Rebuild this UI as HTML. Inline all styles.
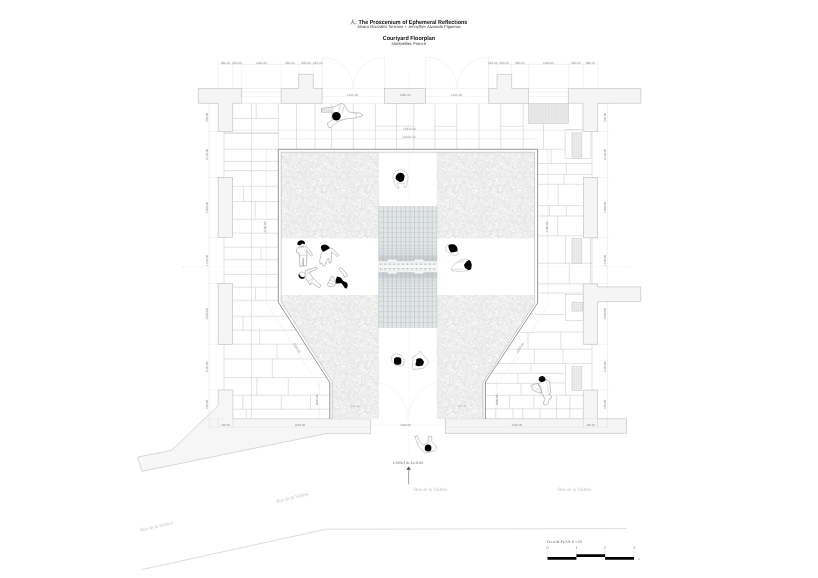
<!DOCTYPE html>
<html lang="en"><head><meta charset="utf-8"><title>Courtyard Floorplan</title>
<style>html,body{margin:0;padding:0;background:#fff}body{width:818px;height:578px;overflow:hidden}svg{display:block;text-rendering:geometricPrecision;}.sa{font-family:"Liberation Sans","Noto Sans CJK SC",sans-serif}.se{font-family:"Liberation Serif","Noto Serif CJK SC",serif}</style></head>
<body><svg width="818" height="578" viewBox="0 0 818 578">
<rect width="818" height="578" fill="#fff"/>
<defs>
<pattern id="gravel" width="44" height="44" patternUnits="userSpaceOnUse">
<rect width="44" height="44" fill="#f1f1f1"/>
<circle cx="14.2" cy="6.6" r="0.81" fill="#ececec" stroke="#d4d4d4" stroke-width="0.25"/>
<circle cx="3.2" cy="23.6" r="0.65" fill="#fdfdfd" stroke="#d4d4d4" stroke-width="0.25"/>
<circle cx="2.6" cy="22.3" r="0.47" fill="#f4f4f4" stroke="#d4d4d4" stroke-width="0.25"/>
<circle cx="19.1" cy="3.1" r="0.50" fill="#f0f0f0" stroke="#d4d4d4" stroke-width="0.25"/>
<circle cx="18.7" cy="36.4" r="0.52" fill="#ececec" stroke="#d4d4d4" stroke-width="0.25"/>
<circle cx="9.8" cy="27.6" r="0.97" fill="#ececec" stroke="#d4d4d4" stroke-width="0.25"/>
<circle cx="25.4" cy="17.5" r="0.99" fill="#f9f9f9" stroke="#d4d4d4" stroke-width="0.25"/>
<circle cx="2.0" cy="37.8" r="0.61" fill="#fdfdfd" stroke="#d4d4d4" stroke-width="0.25"/>
<circle cx="6.3" cy="5.2" r="0.62" fill="#f9f9f9" stroke="#d4d4d4" stroke-width="0.25"/>
<circle cx="35.9" cy="8.0" r="0.77" fill="#f6f6f6" stroke="#d4d4d4" stroke-width="0.25"/>
<circle cx="28.1" cy="16.4" r="0.75" fill="#f4f4f4" stroke="#d4d4d4" stroke-width="0.25"/>
<circle cx="2.8" cy="2.6" r="0.56" fill="#f9f9f9" stroke="#d4d4d4" stroke-width="0.25"/>
<circle cx="29.9" cy="18.8" r="0.62" fill="#fdfdfd" stroke="#d4d4d4" stroke-width="0.25"/>
<circle cx="25.8" cy="19.9" r="0.61" fill="#f0f0f0" stroke="#d4d4d4" stroke-width="0.25"/>
<circle cx="35.0" cy="30.8" r="0.58" fill="#f4f4f4" stroke="#d4d4d4" stroke-width="0.25"/>
<circle cx="25.3" cy="23.1" r="0.93" fill="#f6f6f6" stroke="#d4d4d4" stroke-width="0.25"/>
<circle cx="32.1" cy="12.7" r="0.99" fill="#ececec" stroke="#d4d4d4" stroke-width="0.25"/>
<circle cx="5.2" cy="18.4" r="0.87" fill="#f9f9f9" stroke="#d4d4d4" stroke-width="0.25"/>
<circle cx="6.7" cy="21.5" r="0.47" fill="#f4f4f4" stroke="#d4d4d4" stroke-width="0.25"/>
<circle cx="29.4" cy="33.6" r="0.77" fill="#f4f4f4" stroke="#d4d4d4" stroke-width="0.25"/>
<circle cx="38.5" cy="13.8" r="0.83" fill="#f0f0f0" stroke="#d4d4d4" stroke-width="0.25"/>
<circle cx="26.2" cy="25.5" r="0.70" fill="#f0f0f0" stroke="#d4d4d4" stroke-width="0.25"/>
<circle cx="37.0" cy="41.6" r="0.71" fill="#f0f0f0" stroke="#d4d4d4" stroke-width="0.25"/>
<circle cx="29.2" cy="2.7" r="0.84" fill="#ececec" stroke="#d4d4d4" stroke-width="0.25"/>
<circle cx="28.5" cy="43.7" r="0.90" fill="#f9f9f9" stroke="#d4d4d4" stroke-width="0.25"/>
<circle cx="28.5" cy="-0.3" r="0.90" fill="#f9f9f9" stroke="#d4d4d4" stroke-width="0.25"/>
<circle cx="12.5" cy="17.0" r="0.82" fill="#f9f9f9" stroke="#d4d4d4" stroke-width="0.25"/>
<circle cx="1.0" cy="20.3" r="0.54" fill="#f9f9f9" stroke="#d4d4d4" stroke-width="0.25"/>
<circle cx="45.0" cy="20.3" r="0.54" fill="#f9f9f9" stroke="#d4d4d4" stroke-width="0.25"/>
<circle cx="5.2" cy="2.6" r="0.87" fill="#ececec" stroke="#d4d4d4" stroke-width="0.25"/>
<circle cx="5.7" cy="10.9" r="0.67" fill="#f6f6f6" stroke="#d4d4d4" stroke-width="0.25"/>
<circle cx="38.3" cy="3.5" r="0.70" fill="#fdfdfd" stroke="#d4d4d4" stroke-width="0.25"/>
<circle cx="24.2" cy="38.9" r="0.90" fill="#ececec" stroke="#d4d4d4" stroke-width="0.25"/>
<circle cx="38.0" cy="12.3" r="0.68" fill="#f6f6f6" stroke="#d4d4d4" stroke-width="0.25"/>
<circle cx="15.8" cy="38.9" r="0.98" fill="#fdfdfd" stroke="#d4d4d4" stroke-width="0.25"/>
<circle cx="6.6" cy="7.8" r="0.58" fill="#ececec" stroke="#d4d4d4" stroke-width="0.25"/>
<circle cx="10.3" cy="21.3" r="0.77" fill="#f6f6f6" stroke="#d4d4d4" stroke-width="0.25"/>
<circle cx="11.6" cy="0.2" r="0.68" fill="#f9f9f9" stroke="#d4d4d4" stroke-width="0.25"/>
<circle cx="11.6" cy="44.2" r="0.68" fill="#f9f9f9" stroke="#d4d4d4" stroke-width="0.25"/>
<circle cx="16.2" cy="24.9" r="0.97" fill="#f6f6f6" stroke="#d4d4d4" stroke-width="0.25"/>
<circle cx="30.4" cy="22.7" r="0.79" fill="#f9f9f9" stroke="#d4d4d4" stroke-width="0.25"/>
<circle cx="34.3" cy="38.5" r="0.89" fill="#fdfdfd" stroke="#d4d4d4" stroke-width="0.25"/>
<circle cx="17.3" cy="17.6" r="0.51" fill="#f9f9f9" stroke="#d4d4d4" stroke-width="0.25"/>
<circle cx="27.9" cy="2.7" r="0.49" fill="#f6f6f6" stroke="#d4d4d4" stroke-width="0.25"/>
<circle cx="9.2" cy="7.1" r="0.64" fill="#f9f9f9" stroke="#d4d4d4" stroke-width="0.25"/>
<circle cx="2.3" cy="0.0" r="0.53" fill="#f0f0f0" stroke="#d4d4d4" stroke-width="0.25"/>
<circle cx="2.3" cy="44.0" r="0.53" fill="#f0f0f0" stroke="#d4d4d4" stroke-width="0.25"/>
<circle cx="4.5" cy="16.0" r="0.46" fill="#f4f4f4" stroke="#d4d4d4" stroke-width="0.25"/>
<circle cx="38.5" cy="27.0" r="0.53" fill="#f9f9f9" stroke="#d4d4d4" stroke-width="0.25"/>
<circle cx="11.1" cy="15.3" r="0.65" fill="#fdfdfd" stroke="#d4d4d4" stroke-width="0.25"/>
<circle cx="5.4" cy="37.4" r="1.00" fill="#f9f9f9" stroke="#d4d4d4" stroke-width="0.25"/>
<circle cx="20.5" cy="21.3" r="0.50" fill="#fdfdfd" stroke="#d4d4d4" stroke-width="0.25"/>
<circle cx="41.8" cy="23.2" r="0.53" fill="#fdfdfd" stroke="#d4d4d4" stroke-width="0.25"/>
<circle cx="23.9" cy="1.2" r="0.74" fill="#ececec" stroke="#d4d4d4" stroke-width="0.25"/>
<circle cx="23.9" cy="45.2" r="0.74" fill="#ececec" stroke="#d4d4d4" stroke-width="0.25"/>
<circle cx="43.1" cy="38.0" r="0.83" fill="#f4f4f4" stroke="#d4d4d4" stroke-width="0.25"/>
<circle cx="-0.9" cy="38.0" r="0.83" fill="#f4f4f4" stroke="#d4d4d4" stroke-width="0.25"/>
<circle cx="34.0" cy="23.4" r="0.88" fill="#f9f9f9" stroke="#d4d4d4" stroke-width="0.25"/>
<circle cx="14.5" cy="9.8" r="0.90" fill="#f9f9f9" stroke="#d4d4d4" stroke-width="0.25"/>
<circle cx="36.0" cy="32.6" r="0.57" fill="#f6f6f6" stroke="#d4d4d4" stroke-width="0.25"/>
<circle cx="22.8" cy="15.6" r="0.47" fill="#f6f6f6" stroke="#d4d4d4" stroke-width="0.25"/>
<circle cx="1.2" cy="12.3" r="0.59" fill="#fdfdfd" stroke="#d4d4d4" stroke-width="0.25"/>
<circle cx="30.5" cy="42.1" r="0.70" fill="#f9f9f9" stroke="#d4d4d4" stroke-width="0.25"/>
<circle cx="41.2" cy="43.5" r="0.98" fill="#f0f0f0" stroke="#d4d4d4" stroke-width="0.25"/>
<circle cx="41.2" cy="-0.5" r="0.98" fill="#f0f0f0" stroke="#d4d4d4" stroke-width="0.25"/>
<circle cx="16.0" cy="9.7" r="0.57" fill="#f6f6f6" stroke="#d4d4d4" stroke-width="0.25"/>
<circle cx="8.7" cy="9.0" r="0.79" fill="#f6f6f6" stroke="#d4d4d4" stroke-width="0.25"/>
<circle cx="39.6" cy="37.0" r="0.71" fill="#f4f4f4" stroke="#d4d4d4" stroke-width="0.25"/>
<circle cx="28.7" cy="35.2" r="0.50" fill="#f0f0f0" stroke="#d4d4d4" stroke-width="0.25"/>
<circle cx="29.1" cy="40.0" r="0.88" fill="#f9f9f9" stroke="#d4d4d4" stroke-width="0.25"/>
<circle cx="33.0" cy="21.0" r="0.55" fill="#f6f6f6" stroke="#d4d4d4" stroke-width="0.25"/>
<circle cx="34.7" cy="14.6" r="0.89" fill="#f4f4f4" stroke="#d4d4d4" stroke-width="0.25"/>
<circle cx="42.8" cy="17.4" r="0.67" fill="#fdfdfd" stroke="#d4d4d4" stroke-width="0.25"/>
<circle cx="41.7" cy="31.9" r="0.54" fill="#f0f0f0" stroke="#d4d4d4" stroke-width="0.25"/>
<circle cx="5.6" cy="6.7" r="0.95" fill="#f6f6f6" stroke="#d4d4d4" stroke-width="0.25"/>
<circle cx="35.5" cy="6.4" r="0.90" fill="#fdfdfd" stroke="#d4d4d4" stroke-width="0.25"/>
<circle cx="43.1" cy="28.9" r="0.64" fill="#fdfdfd" stroke="#d4d4d4" stroke-width="0.25"/>
<circle cx="-0.9" cy="28.9" r="0.64" fill="#fdfdfd" stroke="#d4d4d4" stroke-width="0.25"/>
<circle cx="24.1" cy="5.8" r="0.46" fill="#f4f4f4" stroke="#d4d4d4" stroke-width="0.25"/>
<circle cx="41.1" cy="19.1" r="0.93" fill="#ececec" stroke="#d4d4d4" stroke-width="0.25"/>
<circle cx="36.4" cy="9.3" r="0.59" fill="#f9f9f9" stroke="#d4d4d4" stroke-width="0.25"/>
<circle cx="12.9" cy="10.6" r="0.77" fill="#ececec" stroke="#d4d4d4" stroke-width="0.25"/>
<circle cx="11.4" cy="18.4" r="0.52" fill="#f6f6f6" stroke="#d4d4d4" stroke-width="0.25"/>
<circle cx="40.0" cy="15.6" r="0.70" fill="#fdfdfd" stroke="#d4d4d4" stroke-width="0.25"/>
<circle cx="25.7" cy="39.8" r="0.68" fill="#f0f0f0" stroke="#d4d4d4" stroke-width="0.25"/>
<circle cx="40.4" cy="22.1" r="0.74" fill="#f6f6f6" stroke="#d4d4d4" stroke-width="0.25"/>
<circle cx="8.1" cy="0.2" r="0.89" fill="#ececec" stroke="#d4d4d4" stroke-width="0.25"/>
<circle cx="8.1" cy="44.2" r="0.89" fill="#ececec" stroke="#d4d4d4" stroke-width="0.25"/>
<circle cx="24.5" cy="14.3" r="0.74" fill="#f6f6f6" stroke="#d4d4d4" stroke-width="0.25"/>
<circle cx="24.4" cy="34.5" r="0.51" fill="#f4f4f4" stroke="#d4d4d4" stroke-width="0.25"/>
<circle cx="24.7" cy="10.9" r="0.60" fill="#ececec" stroke="#d4d4d4" stroke-width="0.25"/>
<circle cx="33.4" cy="40.1" r="0.69" fill="#f0f0f0" stroke="#d4d4d4" stroke-width="0.25"/>
<circle cx="27.0" cy="22.2" r="0.73" fill="#f4f4f4" stroke="#d4d4d4" stroke-width="0.25"/>
<circle cx="21.0" cy="41.4" r="0.83" fill="#f6f6f6" stroke="#d4d4d4" stroke-width="0.25"/>
<circle cx="38.6" cy="41.5" r="0.59" fill="#ececec" stroke="#d4d4d4" stroke-width="0.25"/>
<circle cx="24.6" cy="41.5" r="0.91" fill="#fdfdfd" stroke="#d4d4d4" stroke-width="0.25"/>
<circle cx="3.2" cy="10.6" r="0.49" fill="#f0f0f0" stroke="#d4d4d4" stroke-width="0.25"/>
<circle cx="6.8" cy="31.5" r="0.81" fill="#f6f6f6" stroke="#d4d4d4" stroke-width="0.25"/>
<circle cx="9.7" cy="41.9" r="0.67" fill="#fdfdfd" stroke="#d4d4d4" stroke-width="0.25"/>
<circle cx="21.4" cy="43.6" r="0.91" fill="#f6f6f6" stroke="#d4d4d4" stroke-width="0.25"/>
<circle cx="21.4" cy="-0.4" r="0.91" fill="#f6f6f6" stroke="#d4d4d4" stroke-width="0.25"/>
<circle cx="7.1" cy="19.0" r="0.73" fill="#f0f0f0" stroke="#d4d4d4" stroke-width="0.25"/>
<circle cx="31.8" cy="0.9" r="0.75" fill="#f0f0f0" stroke="#d4d4d4" stroke-width="0.25"/>
<circle cx="31.8" cy="44.9" r="0.75" fill="#f0f0f0" stroke="#d4d4d4" stroke-width="0.25"/>
<circle cx="19.4" cy="0.8" r="0.63" fill="#fdfdfd" stroke="#d4d4d4" stroke-width="0.25"/>
<circle cx="19.4" cy="44.8" r="0.63" fill="#fdfdfd" stroke="#d4d4d4" stroke-width="0.25"/>
<circle cx="43.3" cy="34.7" r="0.98" fill="#f9f9f9" stroke="#d4d4d4" stroke-width="0.25"/>
<circle cx="-0.7" cy="34.7" r="0.98" fill="#f9f9f9" stroke="#d4d4d4" stroke-width="0.25"/>
<circle cx="4.6" cy="11.7" r="0.47" fill="#f4f4f4" stroke="#d4d4d4" stroke-width="0.25"/>
<circle cx="34.3" cy="11.9" r="0.52" fill="#fdfdfd" stroke="#d4d4d4" stroke-width="0.25"/>
<circle cx="18.6" cy="40.1" r="0.90" fill="#f4f4f4" stroke="#d4d4d4" stroke-width="0.25"/>
<circle cx="11.4" cy="6.6" r="0.96" fill="#f4f4f4" stroke="#d4d4d4" stroke-width="0.25"/>
<circle cx="25.1" cy="30.8" r="0.50" fill="#f6f6f6" stroke="#d4d4d4" stroke-width="0.25"/>
<circle cx="2.5" cy="30.3" r="0.68" fill="#f6f6f6" stroke="#d4d4d4" stroke-width="0.25"/>
<circle cx="3.2" cy="41.3" r="0.80" fill="#f0f0f0" stroke="#d4d4d4" stroke-width="0.25"/>
<circle cx="35.3" cy="3.7" r="0.92" fill="#f6f6f6" stroke="#d4d4d4" stroke-width="0.25"/>
<circle cx="10.5" cy="4.8" r="0.54" fill="#f0f0f0" stroke="#d4d4d4" stroke-width="0.25"/>
<circle cx="2.2" cy="8.9" r="0.62" fill="#f9f9f9" stroke="#d4d4d4" stroke-width="0.25"/>
<circle cx="13.4" cy="33.4" r="0.61" fill="#fdfdfd" stroke="#d4d4d4" stroke-width="0.25"/>
<circle cx="22.0" cy="7.8" r="0.64" fill="#f4f4f4" stroke="#d4d4d4" stroke-width="0.25"/>
<circle cx="0.8" cy="11.0" r="0.46" fill="#f4f4f4" stroke="#d4d4d4" stroke-width="0.25"/>
<circle cx="44.8" cy="11.0" r="0.46" fill="#f4f4f4" stroke="#d4d4d4" stroke-width="0.25"/>
<circle cx="32.3" cy="24.2" r="0.55" fill="#fdfdfd" stroke="#d4d4d4" stroke-width="0.25"/>
<circle cx="36.0" cy="19.0" r="0.72" fill="#f6f6f6" stroke="#d4d4d4" stroke-width="0.25"/>
<circle cx="36.7" cy="17.3" r="0.73" fill="#fdfdfd" stroke="#d4d4d4" stroke-width="0.25"/>
<circle cx="36.6" cy="31.1" r="0.80" fill="#f0f0f0" stroke="#d4d4d4" stroke-width="0.25"/>
<circle cx="17.8" cy="15.3" r="0.48" fill="#fdfdfd" stroke="#d4d4d4" stroke-width="0.25"/>
<circle cx="37.0" cy="38.3" r="0.82" fill="#fdfdfd" stroke="#d4d4d4" stroke-width="0.25"/>
<circle cx="20.2" cy="6.9" r="0.70" fill="#f4f4f4" stroke="#d4d4d4" stroke-width="0.25"/>
<circle cx="11.6" cy="42.3" r="0.98" fill="#fdfdfd" stroke="#d4d4d4" stroke-width="0.25"/>
<circle cx="13.6" cy="15.7" r="0.45" fill="#f9f9f9" stroke="#d4d4d4" stroke-width="0.25"/>
<circle cx="16.8" cy="20.9" r="0.73" fill="#f9f9f9" stroke="#d4d4d4" stroke-width="0.25"/>
<circle cx="8.8" cy="22.2" r="0.45" fill="#f4f4f4" stroke="#d4d4d4" stroke-width="0.25"/>
<circle cx="11.6" cy="3.9" r="0.67" fill="#f6f6f6" stroke="#d4d4d4" stroke-width="0.25"/>
<circle cx="1.8" cy="1.0" r="0.62" fill="#f9f9f9" stroke="#d4d4d4" stroke-width="0.25"/>
<circle cx="1.8" cy="45.0" r="0.62" fill="#f9f9f9" stroke="#d4d4d4" stroke-width="0.25"/>
<circle cx="10.2" cy="25.8" r="0.74" fill="#f6f6f6" stroke="#d4d4d4" stroke-width="0.25"/>
<circle cx="33.0" cy="28.9" r="0.84" fill="#fdfdfd" stroke="#d4d4d4" stroke-width="0.25"/>
<circle cx="38.7" cy="17.1" r="0.63" fill="#f0f0f0" stroke="#d4d4d4" stroke-width="0.25"/>
<circle cx="43.3" cy="6.6" r="0.85" fill="#ececec" stroke="#d4d4d4" stroke-width="0.25"/>
<circle cx="-0.7" cy="6.6" r="0.85" fill="#ececec" stroke="#d4d4d4" stroke-width="0.25"/>
<circle cx="22.2" cy="36.7" r="0.89" fill="#f9f9f9" stroke="#d4d4d4" stroke-width="0.25"/>
<circle cx="36.4" cy="25.7" r="0.94" fill="#f6f6f6" stroke="#d4d4d4" stroke-width="0.25"/>
<circle cx="30.0" cy="30.5" r="0.58" fill="#f0f0f0" stroke="#d4d4d4" stroke-width="0.25"/>
<circle cx="1.4" cy="5.9" r="0.65" fill="#f0f0f0" stroke="#d4d4d4" stroke-width="0.25"/>
<circle cx="27.6" cy="27.6" r="0.82" fill="#fdfdfd" stroke="#d4d4d4" stroke-width="0.25"/>
<circle cx="32.1" cy="9.0" r="0.86" fill="#ececec" stroke="#d4d4d4" stroke-width="0.25"/>
<circle cx="42.9" cy="21.7" r="0.66" fill="#f9f9f9" stroke="#d4d4d4" stroke-width="0.25"/>
<circle cx="-1.1" cy="21.7" r="0.66" fill="#f9f9f9" stroke="#d4d4d4" stroke-width="0.25"/>
<circle cx="21.1" cy="30.1" r="0.87" fill="#f6f6f6" stroke="#d4d4d4" stroke-width="0.25"/>
<circle cx="13.4" cy="25.0" r="0.46" fill="#f4f4f4" stroke="#d4d4d4" stroke-width="0.25"/>
<circle cx="2.7" cy="11.8" r="0.82" fill="#ececec" stroke="#d4d4d4" stroke-width="0.25"/>
<circle cx="22.7" cy="20.4" r="0.71" fill="#ececec" stroke="#d4d4d4" stroke-width="0.25"/>
<circle cx="5.2" cy="39.3" r="0.56" fill="#f4f4f4" stroke="#d4d4d4" stroke-width="0.25"/>
<circle cx="43.0" cy="41.2" r="0.46" fill="#f0f0f0" stroke="#d4d4d4" stroke-width="0.25"/>
<circle cx="-1.0" cy="41.2" r="0.46" fill="#f0f0f0" stroke="#d4d4d4" stroke-width="0.25"/>
<circle cx="20.2" cy="36.1" r="0.98" fill="#fdfdfd" stroke="#d4d4d4" stroke-width="0.25"/>
<circle cx="19.8" cy="11.8" r="0.57" fill="#ececec" stroke="#d4d4d4" stroke-width="0.25"/>
<circle cx="41.6" cy="9.3" r="0.77" fill="#fdfdfd" stroke="#d4d4d4" stroke-width="0.25"/>
<circle cx="6.2" cy="23.1" r="0.97" fill="#f4f4f4" stroke="#d4d4d4" stroke-width="0.25"/>
<circle cx="39.0" cy="30.9" r="0.58" fill="#ececec" stroke="#d4d4d4" stroke-width="0.25"/>
<circle cx="39.5" cy="21.4" r="0.46" fill="#f4f4f4" stroke="#d4d4d4" stroke-width="0.25"/>
<circle cx="13.9" cy="37.0" r="0.45" fill="#f6f6f6" stroke="#d4d4d4" stroke-width="0.25"/>
<circle cx="33.0" cy="36.9" r="0.52" fill="#f6f6f6" stroke="#d4d4d4" stroke-width="0.25"/>
<circle cx="43.9" cy="25.9" r="0.65" fill="#fdfdfd" stroke="#d4d4d4" stroke-width="0.25"/>
<circle cx="-0.1" cy="25.9" r="0.65" fill="#fdfdfd" stroke="#d4d4d4" stroke-width="0.25"/>
<circle cx="18.8" cy="12.1" r="0.48" fill="#f6f6f6" stroke="#d4d4d4" stroke-width="0.25"/>
<circle cx="41.2" cy="11.0" r="0.60" fill="#f9f9f9" stroke="#d4d4d4" stroke-width="0.25"/>
<circle cx="24.2" cy="31.7" r="0.48" fill="#ececec" stroke="#d4d4d4" stroke-width="0.25"/>
<circle cx="32.2" cy="19.8" r="0.86" fill="#ececec" stroke="#d4d4d4" stroke-width="0.25"/>
<circle cx="28.4" cy="12.6" r="0.48" fill="#f0f0f0" stroke="#d4d4d4" stroke-width="0.25"/>
<circle cx="40.8" cy="5.6" r="0.71" fill="#fdfdfd" stroke="#d4d4d4" stroke-width="0.25"/>
<circle cx="15.1" cy="13.1" r="0.86" fill="#ececec" stroke="#d4d4d4" stroke-width="0.25"/>
<circle cx="43.0" cy="11.4" r="0.81" fill="#ececec" stroke="#d4d4d4" stroke-width="0.25"/>
<circle cx="-1.0" cy="11.4" r="0.81" fill="#ececec" stroke="#d4d4d4" stroke-width="0.25"/>
<circle cx="15.0" cy="4.0" r="0.58" fill="#ececec" stroke="#d4d4d4" stroke-width="0.25"/>
<circle cx="33.0" cy="18.2" r="0.68" fill="#ececec" stroke="#d4d4d4" stroke-width="0.25"/>
<circle cx="38.0" cy="9.5" r="0.60" fill="#f4f4f4" stroke="#d4d4d4" stroke-width="0.25"/>
<circle cx="23.0" cy="30.0" r="0.97" fill="#f0f0f0" stroke="#d4d4d4" stroke-width="0.25"/>
<circle cx="20.1" cy="24.3" r="0.47" fill="#f9f9f9" stroke="#d4d4d4" stroke-width="0.25"/>
<circle cx="34.4" cy="10.2" r="0.96" fill="#f9f9f9" stroke="#d4d4d4" stroke-width="0.25"/>
<circle cx="26.4" cy="0.5" r="0.62" fill="#f0f0f0" stroke="#d4d4d4" stroke-width="0.25"/>
<circle cx="26.4" cy="44.5" r="0.62" fill="#f0f0f0" stroke="#d4d4d4" stroke-width="0.25"/>
<circle cx="13.5" cy="1.0" r="0.72" fill="#f6f6f6" stroke="#d4d4d4" stroke-width="0.25"/>
<circle cx="13.5" cy="45.0" r="0.72" fill="#f6f6f6" stroke="#d4d4d4" stroke-width="0.25"/>
<circle cx="1.5" cy="14.9" r="0.68" fill="#f6f6f6" stroke="#d4d4d4" stroke-width="0.25"/>
<circle cx="30.0" cy="8.7" r="0.89" fill="#f9f9f9" stroke="#d4d4d4" stroke-width="0.25"/>
<circle cx="32.5" cy="22.2" r="0.56" fill="#f0f0f0" stroke="#d4d4d4" stroke-width="0.25"/>
<circle cx="42.7" cy="13.7" r="0.90" fill="#f0f0f0" stroke="#d4d4d4" stroke-width="0.25"/>
<circle cx="10.2" cy="9.7" r="0.87" fill="#f6f6f6" stroke="#d4d4d4" stroke-width="0.25"/>
<circle cx="29.3" cy="41.7" r="0.53" fill="#f4f4f4" stroke="#d4d4d4" stroke-width="0.25"/>
<circle cx="16.7" cy="16.5" r="0.63" fill="#f0f0f0" stroke="#d4d4d4" stroke-width="0.25"/>
<circle cx="15.5" cy="42.0" r="0.52" fill="#fdfdfd" stroke="#d4d4d4" stroke-width="0.25"/>
<circle cx="36.1" cy="36.2" r="0.69" fill="#f6f6f6" stroke="#d4d4d4" stroke-width="0.25"/>
<circle cx="2.2" cy="20.8" r="0.65" fill="#f6f6f6" stroke="#d4d4d4" stroke-width="0.25"/>
<circle cx="40.5" cy="8.5" r="0.65" fill="#f9f9f9" stroke="#d4d4d4" stroke-width="0.25"/>
<circle cx="39.5" cy="1.3" r="0.68" fill="#f0f0f0" stroke="#d4d4d4" stroke-width="0.25"/>
<circle cx="35.7" cy="33.7" r="0.47" fill="#f0f0f0" stroke="#d4d4d4" stroke-width="0.25"/>
<circle cx="11.3" cy="32.9" r="0.94" fill="#ececec" stroke="#d4d4d4" stroke-width="0.25"/>
<circle cx="27.1" cy="11.5" r="0.84" fill="#f0f0f0" stroke="#d4d4d4" stroke-width="0.25"/>
<circle cx="13.9" cy="12.1" r="0.45" fill="#fdfdfd" stroke="#d4d4d4" stroke-width="0.25"/>
<circle cx="41.5" cy="1.1" r="0.58" fill="#ececec" stroke="#d4d4d4" stroke-width="0.25"/>
<circle cx="41.5" cy="45.1" r="0.58" fill="#ececec" stroke="#d4d4d4" stroke-width="0.25"/>
<circle cx="17.0" cy="11.0" r="0.69" fill="#fdfdfd" stroke="#d4d4d4" stroke-width="0.25"/>
<circle cx="34.0" cy="26.7" r="0.63" fill="#fdfdfd" stroke="#d4d4d4" stroke-width="0.25"/>
<circle cx="10.9" cy="2.8" r="0.47" fill="#fdfdfd" stroke="#d4d4d4" stroke-width="0.25"/>
<circle cx="38.9" cy="43.5" r="0.60" fill="#f0f0f0" stroke="#d4d4d4" stroke-width="0.25"/>
<circle cx="38.9" cy="-0.5" r="0.60" fill="#f0f0f0" stroke="#d4d4d4" stroke-width="0.25"/>
<circle cx="3.7" cy="4.2" r="0.72" fill="#f6f6f6" stroke="#d4d4d4" stroke-width="0.25"/>
<circle cx="18.3" cy="27.3" r="0.82" fill="#f6f6f6" stroke="#d4d4d4" stroke-width="0.25"/>
<circle cx="8.8" cy="10.9" r="0.58" fill="#f6f6f6" stroke="#d4d4d4" stroke-width="0.25"/>
<circle cx="6.7" cy="38.9" r="0.77" fill="#f0f0f0" stroke="#d4d4d4" stroke-width="0.25"/>
<circle cx="14.4" cy="17.4" r="1.00" fill="#ececec" stroke="#d4d4d4" stroke-width="0.25"/>
<circle cx="22.3" cy="10.2" r="0.89" fill="#fdfdfd" stroke="#d4d4d4" stroke-width="0.25"/>
<circle cx="38.1" cy="19.8" r="0.59" fill="#f9f9f9" stroke="#d4d4d4" stroke-width="0.25"/>
<circle cx="34.2" cy="41.6" r="0.51" fill="#ececec" stroke="#d4d4d4" stroke-width="0.25"/>
<circle cx="26.2" cy="27.3" r="0.57" fill="#f0f0f0" stroke="#d4d4d4" stroke-width="0.25"/>
<circle cx="16.2" cy="6.2" r="0.56" fill="#f0f0f0" stroke="#d4d4d4" stroke-width="0.25"/>
<circle cx="8.9" cy="35.0" r="0.75" fill="#f0f0f0" stroke="#d4d4d4" stroke-width="0.25"/>
<circle cx="24.2" cy="28.1" r="0.50" fill="#fdfdfd" stroke="#d4d4d4" stroke-width="0.25"/>
<circle cx="12.5" cy="13.5" r="0.97" fill="#f4f4f4" stroke="#d4d4d4" stroke-width="0.25"/>
<circle cx="18.3" cy="38.0" r="1.00" fill="#f6f6f6" stroke="#d4d4d4" stroke-width="0.25"/>
<circle cx="0.7" cy="24.3" r="0.80" fill="#fdfdfd" stroke="#d4d4d4" stroke-width="0.25"/>
<circle cx="44.7" cy="24.3" r="0.80" fill="#fdfdfd" stroke="#d4d4d4" stroke-width="0.25"/>
<circle cx="40.0" cy="3.9" r="0.79" fill="#f4f4f4" stroke="#d4d4d4" stroke-width="0.25"/>
<circle cx="16.3" cy="22.2" r="0.53" fill="#f0f0f0" stroke="#d4d4d4" stroke-width="0.25"/>
<circle cx="12.5" cy="22.9" r="0.96" fill="#f6f6f6" stroke="#d4d4d4" stroke-width="0.25"/>
<circle cx="4.8" cy="21.6" r="0.89" fill="#f0f0f0" stroke="#d4d4d4" stroke-width="0.25"/>
<circle cx="39.8" cy="27.3" r="0.90" fill="#f6f6f6" stroke="#d4d4d4" stroke-width="0.25"/>
<circle cx="7.1" cy="34.6" r="0.57" fill="#f4f4f4" stroke="#d4d4d4" stroke-width="0.25"/>
<circle cx="22.8" cy="16.9" r="0.52" fill="#f9f9f9" stroke="#d4d4d4" stroke-width="0.25"/>
<circle cx="18.7" cy="29.0" r="0.70" fill="#fdfdfd" stroke="#d4d4d4" stroke-width="0.25"/>
<circle cx="34.3" cy="20.2" r="0.55" fill="#fdfdfd" stroke="#d4d4d4" stroke-width="0.25"/>
<circle cx="20.8" cy="4.7" r="0.52" fill="#f6f6f6" stroke="#d4d4d4" stroke-width="0.25"/>
<circle cx="22.4" cy="1.8" r="0.80" fill="#f4f4f4" stroke="#d4d4d4" stroke-width="0.25"/>
<circle cx="3.6" cy="32.3" r="0.88" fill="#fdfdfd" stroke="#d4d4d4" stroke-width="0.25"/>
<circle cx="16.6" cy="41.8" r="0.52" fill="#f4f4f4" stroke="#d4d4d4" stroke-width="0.25"/>
<circle cx="2.9" cy="15.4" r="0.87" fill="#f0f0f0" stroke="#d4d4d4" stroke-width="0.25"/>
<circle cx="22.3" cy="14.0" r="0.47" fill="#f9f9f9" stroke="#d4d4d4" stroke-width="0.25"/>
<circle cx="34.5" cy="5.1" r="0.74" fill="#f9f9f9" stroke="#d4d4d4" stroke-width="0.25"/>
<circle cx="24.4" cy="25.5" r="0.94" fill="#f9f9f9" stroke="#d4d4d4" stroke-width="0.25"/>
<circle cx="4.6" cy="43.7" r="0.80" fill="#fdfdfd" stroke="#d4d4d4" stroke-width="0.25"/>
<circle cx="4.6" cy="-0.3" r="0.80" fill="#fdfdfd" stroke="#d4d4d4" stroke-width="0.25"/>
<circle cx="17.3" cy="35.1" r="0.60" fill="#f6f6f6" stroke="#d4d4d4" stroke-width="0.25"/>
<circle cx="32.7" cy="2.1" r="0.90" fill="#f0f0f0" stroke="#d4d4d4" stroke-width="0.25"/>
<circle cx="25.8" cy="29.2" r="0.62" fill="#fdfdfd" stroke="#d4d4d4" stroke-width="0.25"/>
<circle cx="0.1" cy="1.5" r="0.53" fill="#f6f6f6" stroke="#d4d4d4" stroke-width="0.25"/>
<circle cx="44.1" cy="1.5" r="0.53" fill="#f6f6f6" stroke="#d4d4d4" stroke-width="0.25"/>
<circle cx="27.1" cy="19.0" r="0.73" fill="#fdfdfd" stroke="#d4d4d4" stroke-width="0.25"/>
<circle cx="39.4" cy="5.8" r="0.57" fill="#f6f6f6" stroke="#d4d4d4" stroke-width="0.25"/>
<circle cx="28.7" cy="1.0" r="0.45" fill="#f6f6f6" stroke="#d4d4d4" stroke-width="0.25"/>
<circle cx="28.7" cy="45.0" r="0.45" fill="#f6f6f6" stroke="#d4d4d4" stroke-width="0.25"/>
<circle cx="5.9" cy="41.2" r="0.58" fill="#f0f0f0" stroke="#d4d4d4" stroke-width="0.25"/>
<circle cx="38.3" cy="34.4" r="0.67" fill="#f6f6f6" stroke="#d4d4d4" stroke-width="0.25"/>
<circle cx="10.9" cy="39.8" r="0.47" fill="#f6f6f6" stroke="#d4d4d4" stroke-width="0.25"/>
<circle cx="23.4" cy="17.9" r="0.58" fill="#ececec" stroke="#d4d4d4" stroke-width="0.25"/>
<circle cx="2.6" cy="34.3" r="0.46" fill="#ececec" stroke="#d4d4d4" stroke-width="0.25"/>
<circle cx="20.5" cy="32.6" r="0.70" fill="#f0f0f0" stroke="#d4d4d4" stroke-width="0.25"/>
<circle cx="30.6" cy="37.2" r="0.84" fill="#f0f0f0" stroke="#d4d4d4" stroke-width="0.25"/>
<circle cx="11.7" cy="24.4" r="0.69" fill="#f0f0f0" stroke="#d4d4d4" stroke-width="0.25"/>
<circle cx="32.8" cy="14.4" r="0.93" fill="#fdfdfd" stroke="#d4d4d4" stroke-width="0.25"/>
<circle cx="27.8" cy="30.5" r="0.82" fill="#f9f9f9" stroke="#d4d4d4" stroke-width="0.25"/>
<circle cx="4.7" cy="40.9" r="0.64" fill="#f6f6f6" stroke="#d4d4d4" stroke-width="0.25"/>
<circle cx="6.2" cy="1.3" r="0.47" fill="#ececec" stroke="#d4d4d4" stroke-width="0.25"/>
<circle cx="30.5" cy="27.9" r="0.83" fill="#fdfdfd" stroke="#d4d4d4" stroke-width="0.25"/>
<circle cx="16.0" cy="36.0" r="0.90" fill="#f0f0f0" stroke="#d4d4d4" stroke-width="0.25"/>
<circle cx="40.2" cy="41.6" r="0.51" fill="#f9f9f9" stroke="#d4d4d4" stroke-width="0.25"/>
<circle cx="9.1" cy="4.9" r="0.47" fill="#ececec" stroke="#d4d4d4" stroke-width="0.25"/>
<circle cx="36.3" cy="27.8" r="0.61" fill="#f9f9f9" stroke="#d4d4d4" stroke-width="0.25"/>
<circle cx="9.0" cy="14.0" r="0.68" fill="#f6f6f6" stroke="#d4d4d4" stroke-width="0.25"/>
<circle cx="31.5" cy="16.2" r="0.63" fill="#f4f4f4" stroke="#d4d4d4" stroke-width="0.25"/>
<circle cx="19.2" cy="34.0" r="0.64" fill="#f9f9f9" stroke="#d4d4d4" stroke-width="0.25"/>
<circle cx="33.5" cy="43.0" r="0.45" fill="#f0f0f0" stroke="#d4d4d4" stroke-width="0.25"/>
<circle cx="33.5" cy="-1.0" r="0.45" fill="#f0f0f0" stroke="#d4d4d4" stroke-width="0.25"/>
<circle cx="36.6" cy="11.5" r="0.97" fill="#fdfdfd" stroke="#d4d4d4" stroke-width="0.25"/>
<circle cx="3.8" cy="39.1" r="0.46" fill="#f6f6f6" stroke="#d4d4d4" stroke-width="0.25"/>
<circle cx="33.2" cy="33.1" r="0.81" fill="#f0f0f0" stroke="#d4d4d4" stroke-width="0.25"/>
<circle cx="15.3" cy="14.4" r="0.54" fill="#ececec" stroke="#d4d4d4" stroke-width="0.25"/>
<circle cx="37.1" cy="29.1" r="0.86" fill="#f6f6f6" stroke="#d4d4d4" stroke-width="0.25"/>
<circle cx="25.5" cy="5.5" r="0.70" fill="#f6f6f6" stroke="#d4d4d4" stroke-width="0.25"/>
<circle cx="38.9" cy="10.5" r="0.56" fill="#f4f4f4" stroke="#d4d4d4" stroke-width="0.25"/>
<circle cx="13.3" cy="30.9" r="0.91" fill="#f4f4f4" stroke="#d4d4d4" stroke-width="0.25"/>
<circle cx="14.4" cy="23.0" r="0.54" fill="#f0f0f0" stroke="#d4d4d4" stroke-width="0.25"/>
<circle cx="32.1" cy="4.5" r="0.98" fill="#f0f0f0" stroke="#d4d4d4" stroke-width="0.25"/>
<circle cx="9.1" cy="17.1" r="0.47" fill="#f0f0f0" stroke="#d4d4d4" stroke-width="0.25"/>
<circle cx="22.0" cy="27.8" r="0.70" fill="#f0f0f0" stroke="#d4d4d4" stroke-width="0.25"/>
<circle cx="6.2" cy="26.6" r="0.67" fill="#f6f6f6" stroke="#d4d4d4" stroke-width="0.25"/>
<circle cx="25.3" cy="33.0" r="0.68" fill="#f6f6f6" stroke="#d4d4d4" stroke-width="0.25"/>
<circle cx="13.8" cy="27.6" r="0.50" fill="#fdfdfd" stroke="#d4d4d4" stroke-width="0.25"/>
<circle cx="20.0" cy="27.3" r="0.68" fill="#ececec" stroke="#d4d4d4" stroke-width="0.25"/>
<circle cx="23.9" cy="7.1" r="0.88" fill="#f6f6f6" stroke="#d4d4d4" stroke-width="0.25"/>
<circle cx="9.2" cy="30.1" r="0.67" fill="#ececec" stroke="#d4d4d4" stroke-width="0.25"/>
<circle cx="15.6" cy="2.5" r="0.60" fill="#f9f9f9" stroke="#d4d4d4" stroke-width="0.25"/>
<circle cx="17.6" cy="0.6" r="0.68" fill="#f4f4f4" stroke="#d4d4d4" stroke-width="0.25"/>
<circle cx="17.6" cy="44.6" r="0.68" fill="#f4f4f4" stroke="#d4d4d4" stroke-width="0.25"/>
<circle cx="18.5" cy="30.7" r="0.64" fill="#fdfdfd" stroke="#d4d4d4" stroke-width="0.25"/>
<circle cx="35.3" cy="17.2" r="0.57" fill="#fdfdfd" stroke="#d4d4d4" stroke-width="0.25"/>
<circle cx="5.7" cy="34.2" r="0.90" fill="#fdfdfd" stroke="#d4d4d4" stroke-width="0.25"/>
<circle cx="27.9" cy="20.6" r="0.76" fill="#f9f9f9" stroke="#d4d4d4" stroke-width="0.25"/>
<circle cx="20.6" cy="13.0" r="0.75" fill="#fdfdfd" stroke="#d4d4d4" stroke-width="0.25"/>
<circle cx="0.1" cy="31.8" r="0.60" fill="#f6f6f6" stroke="#d4d4d4" stroke-width="0.25"/>
<circle cx="44.1" cy="31.8" r="0.60" fill="#f6f6f6" stroke="#d4d4d4" stroke-width="0.25"/>
<circle cx="10.8" cy="13.3" r="0.71" fill="#f4f4f4" stroke="#d4d4d4" stroke-width="0.25"/>
<circle cx="41.9" cy="28.9" r="0.59" fill="#f9f9f9" stroke="#d4d4d4" stroke-width="0.25"/>
<circle cx="39.8" cy="34.8" r="0.54" fill="#ececec" stroke="#d4d4d4" stroke-width="0.25"/>
<circle cx="23.4" cy="32.6" r="0.69" fill="#fdfdfd" stroke="#d4d4d4" stroke-width="0.25"/>
<circle cx="38.8" cy="24.4" r="0.60" fill="#ececec" stroke="#d4d4d4" stroke-width="0.25"/>
<circle cx="21.6" cy="21.9" r="0.75" fill="#fdfdfd" stroke="#d4d4d4" stroke-width="0.25"/>
<circle cx="42.3" cy="3.3" r="0.80" fill="#f6f6f6" stroke="#d4d4d4" stroke-width="0.25"/>
<circle cx="27.5" cy="14.9" r="0.92" fill="#f0f0f0" stroke="#d4d4d4" stroke-width="0.25"/>
<circle cx="18.6" cy="24.4" r="0.90" fill="#ececec" stroke="#d4d4d4" stroke-width="0.25"/>
<circle cx="12.9" cy="36.4" r="0.67" fill="#f4f4f4" stroke="#d4d4d4" stroke-width="0.25"/>
<circle cx="22.2" cy="12.0" r="0.73" fill="#f6f6f6" stroke="#d4d4d4" stroke-width="0.25"/>
<circle cx="1.8" cy="31.8" r="0.94" fill="#fdfdfd" stroke="#d4d4d4" stroke-width="0.25"/>
<circle cx="0.3" cy="8.4" r="0.96" fill="#f6f6f6" stroke="#d4d4d4" stroke-width="0.25"/>
<circle cx="44.3" cy="8.4" r="0.96" fill="#f6f6f6" stroke="#d4d4d4" stroke-width="0.25"/>
<circle cx="40.2" cy="28.9" r="0.65" fill="#f4f4f4" stroke="#d4d4d4" stroke-width="0.25"/>
<circle cx="41.1" cy="2.4" r="0.76" fill="#f6f6f6" stroke="#d4d4d4" stroke-width="0.25"/>
<circle cx="0.6" cy="17.0" r="0.78" fill="#f4f4f4" stroke="#d4d4d4" stroke-width="0.25"/>
<circle cx="44.6" cy="17.0" r="0.78" fill="#f4f4f4" stroke="#d4d4d4" stroke-width="0.25"/>
<circle cx="18.1" cy="4.5" r="0.80" fill="#f0f0f0" stroke="#d4d4d4" stroke-width="0.25"/>
<circle cx="0.2" cy="30.1" r="0.52" fill="#f4f4f4" stroke="#d4d4d4" stroke-width="0.25"/>
<circle cx="44.2" cy="30.1" r="0.52" fill="#f4f4f4" stroke="#d4d4d4" stroke-width="0.25"/>
<circle cx="37.6" cy="32.1" r="0.50" fill="#f9f9f9" stroke="#d4d4d4" stroke-width="0.25"/>
<circle cx="37.9" cy="21.4" r="0.48" fill="#ececec" stroke="#d4d4d4" stroke-width="0.25"/>
<circle cx="29.8" cy="6.4" r="0.89" fill="#f6f6f6" stroke="#d4d4d4" stroke-width="0.25"/>
<circle cx="16.0" cy="28.4" r="0.80" fill="#f6f6f6" stroke="#d4d4d4" stroke-width="0.25"/>
<circle cx="41.6" cy="34.5" r="0.76" fill="#f9f9f9" stroke="#d4d4d4" stroke-width="0.25"/>
<circle cx="12.9" cy="2.7" r="0.99" fill="#fdfdfd" stroke="#d4d4d4" stroke-width="0.25"/>
<circle cx="26.7" cy="43.0" r="0.91" fill="#f6f6f6" stroke="#d4d4d4" stroke-width="0.25"/>
<circle cx="26.7" cy="-1.0" r="0.91" fill="#f6f6f6" stroke="#d4d4d4" stroke-width="0.25"/>
<circle cx="26.5" cy="13.6" r="0.69" fill="#ececec" stroke="#d4d4d4" stroke-width="0.25"/>
<circle cx="8.8" cy="33.0" r="0.96" fill="#ececec" stroke="#d4d4d4" stroke-width="0.25"/>
<circle cx="20.5" cy="9.1" r="0.59" fill="#ececec" stroke="#d4d4d4" stroke-width="0.25"/>
<circle cx="33.0" cy="34.8" r="0.70" fill="#f9f9f9" stroke="#d4d4d4" stroke-width="0.25"/>
<circle cx="3.9" cy="35.5" r="0.87" fill="#ececec" stroke="#d4d4d4" stroke-width="0.25"/>
<circle cx="38.9" cy="23.0" r="0.71" fill="#f0f0f0" stroke="#d4d4d4" stroke-width="0.25"/>
<circle cx="25.9" cy="8.3" r="0.56" fill="#f9f9f9" stroke="#d4d4d4" stroke-width="0.25"/>
<circle cx="16.5" cy="4.7" r="0.80" fill="#f9f9f9" stroke="#d4d4d4" stroke-width="0.25"/>
<circle cx="21.4" cy="25.0" r="0.59" fill="#fdfdfd" stroke="#d4d4d4" stroke-width="0.25"/>
<circle cx="11.2" cy="1.7" r="0.56" fill="#ececec" stroke="#d4d4d4" stroke-width="0.25"/>
<circle cx="8.0" cy="3.7" r="0.48" fill="#ececec" stroke="#d4d4d4" stroke-width="0.25"/>
<circle cx="41.7" cy="40.0" r="0.49" fill="#f6f6f6" stroke="#d4d4d4" stroke-width="0.25"/>
<circle cx="17.3" cy="19.7" r="0.54" fill="#f9f9f9" stroke="#d4d4d4" stroke-width="0.25"/>
<circle cx="39.7" cy="39.8" r="0.91" fill="#fdfdfd" stroke="#d4d4d4" stroke-width="0.25"/>
<circle cx="29.8" cy="13.1" r="0.78" fill="#f0f0f0" stroke="#d4d4d4" stroke-width="0.25"/>
<circle cx="7.4" cy="10.5" r="0.53" fill="#f9f9f9" stroke="#d4d4d4" stroke-width="0.25"/>
<circle cx="36.2" cy="21.0" r="0.80" fill="#f6f6f6" stroke="#d4d4d4" stroke-width="0.25"/>
<circle cx="6.3" cy="9.8" r="0.48" fill="#f9f9f9" stroke="#d4d4d4" stroke-width="0.25"/>
<circle cx="6.9" cy="11.9" r="0.91" fill="#ececec" stroke="#d4d4d4" stroke-width="0.25"/>
<circle cx="14.0" cy="39.7" r="0.51" fill="#f9f9f9" stroke="#d4d4d4" stroke-width="0.25"/>
<circle cx="16.0" cy="43.6" r="1.00" fill="#f4f4f4" stroke="#d4d4d4" stroke-width="0.25"/>
<circle cx="16.0" cy="-0.4" r="1.00" fill="#f4f4f4" stroke="#d4d4d4" stroke-width="0.25"/>
<circle cx="12.9" cy="43.1" r="0.46" fill="#f4f4f4" stroke="#d4d4d4" stroke-width="0.25"/>
<circle cx="12.9" cy="-0.9" r="0.46" fill="#f4f4f4" stroke="#d4d4d4" stroke-width="0.25"/>
<circle cx="0.1" cy="36.6" r="0.74" fill="#f0f0f0" stroke="#d4d4d4" stroke-width="0.25"/>
<circle cx="44.1" cy="36.6" r="0.74" fill="#f0f0f0" stroke="#d4d4d4" stroke-width="0.25"/>
<circle cx="21.0" cy="38.4" r="0.60" fill="#f6f6f6" stroke="#d4d4d4" stroke-width="0.25"/>
<circle cx="8.2" cy="36.6" r="0.65" fill="#f6f6f6" stroke="#d4d4d4" stroke-width="0.25"/>
<circle cx="7.2" cy="16.3" r="0.78" fill="#fdfdfd" stroke="#d4d4d4" stroke-width="0.25"/>
<circle cx="0.2" cy="22.9" r="0.70" fill="#ececec" stroke="#d4d4d4" stroke-width="0.25"/>
<circle cx="44.2" cy="22.9" r="0.70" fill="#ececec" stroke="#d4d4d4" stroke-width="0.25"/>
<circle cx="22.7" cy="5.3" r="0.84" fill="#f6f6f6" stroke="#d4d4d4" stroke-width="0.25"/>
<circle cx="9.8" cy="8.0" r="0.51" fill="#f6f6f6" stroke="#d4d4d4" stroke-width="0.25"/>
<circle cx="11.0" cy="36.0" r="0.47" fill="#f4f4f4" stroke="#d4d4d4" stroke-width="0.25"/>
<circle cx="4.2" cy="30.8" r="0.56" fill="#f6f6f6" stroke="#d4d4d4" stroke-width="0.25"/>
<circle cx="12.3" cy="5.4" r="0.67" fill="#f4f4f4" stroke="#d4d4d4" stroke-width="0.25"/>
<circle cx="35.4" cy="40.2" r="0.90" fill="#f0f0f0" stroke="#d4d4d4" stroke-width="0.25"/>
<circle cx="37.3" cy="2.4" r="0.73" fill="#f6f6f6" stroke="#d4d4d4" stroke-width="0.25"/>
<circle cx="6.5" cy="7.9" r="0.84" fill="#fefefe" opacity="0.9"/>
<circle cx="5.9" cy="5.6" r="0.58" fill="#fefefe" opacity="0.9"/>
<circle cx="22.9" cy="35.2" r="0.78" fill="#fefefe" opacity="0.9"/>
<circle cx="34.6" cy="4.0" r="0.51" fill="#fefefe" opacity="0.9"/>
<circle cx="33.1" cy="14.7" r="0.82" fill="#fefefe" opacity="0.9"/>
<circle cx="16.0" cy="8.4" r="0.62" fill="#fefefe" opacity="0.9"/>
<circle cx="5.6" cy="38.6" r="0.76" fill="#fefefe" opacity="0.9"/>
<circle cx="15.8" cy="19.9" r="0.67" fill="#fefefe" opacity="0.9"/>
<circle cx="3.7" cy="38.0" r="0.76" fill="#fefefe" opacity="0.9"/>
<circle cx="40.8" cy="19.5" r="0.78" fill="#fefefe" opacity="0.9"/>
<circle cx="11.7" cy="3.3" r="0.92" fill="#fefefe" opacity="0.9"/>
<circle cx="36.5" cy="14.4" r="0.90" fill="#fefefe" opacity="0.9"/>
<circle cx="35.0" cy="14.0" r="0.77" fill="#fefefe" opacity="0.9"/>
<circle cx="40.9" cy="21.8" r="0.93" fill="#fefefe" opacity="0.9"/>
<circle cx="11.5" cy="17.5" r="0.82" fill="#fefefe" opacity="0.9"/>
<circle cx="10.6" cy="14.2" r="0.89" fill="#fefefe" opacity="0.9"/>
<circle cx="21.4" cy="34.0" r="0.61" fill="#fefefe" opacity="0.9"/>
<circle cx="8.6" cy="16.2" r="0.58" fill="#fefefe" opacity="0.9"/>
<circle cx="41.3" cy="13.4" r="0.75" fill="#fefefe" opacity="0.9"/>
<circle cx="6.2" cy="23.4" r="0.67" fill="#fefefe" opacity="0.9"/>
<circle cx="18.0" cy="4.2" r="0.56" fill="#fefefe" opacity="0.9"/>
<circle cx="35.4" cy="15.9" r="0.61" fill="#fefefe" opacity="0.9"/>
<circle cx="9.3" cy="13.1" r="0.61" fill="#fefefe" opacity="0.9"/>
<circle cx="2.9" cy="28.7" r="0.65" fill="#fefefe" opacity="0.9"/>
<circle cx="7.9" cy="30.4" r="0.54" fill="#fefefe" opacity="0.9"/>
<circle cx="12.6" cy="35.7" r="0.56" fill="#fefefe" opacity="0.9"/>
<circle cx="19.7" cy="35.8" r="0.86" fill="#fefefe" opacity="0.9"/>
<circle cx="8.0" cy="16.0" r="0.83" fill="#fefefe" opacity="0.9"/>
<circle cx="17.0" cy="40.8" r="0.59" fill="#fefefe" opacity="0.9"/>
<circle cx="40.5" cy="22.2" r="0.60" fill="#fefefe" opacity="0.9"/>
<circle cx="20.1" cy="6.9" r="0.82" fill="#fefefe" opacity="0.9"/>
<circle cx="12.2" cy="38.4" r="0.76" fill="#fefefe" opacity="0.9"/>
<circle cx="16.6" cy="11.6" r="0.77" fill="#fefefe" opacity="0.9"/>
<circle cx="10.2" cy="37.3" r="0.56" fill="#fefefe" opacity="0.9"/>
<circle cx="22.5" cy="23.7" r="0.62" fill="#fefefe" opacity="0.9"/>
<circle cx="33.1" cy="17.3" r="0.80" fill="#fefefe" opacity="0.9"/>
<circle cx="24.8" cy="14.2" r="0.68" fill="#fefefe" opacity="0.9"/>
<circle cx="5.0" cy="8.8" r="0.88" fill="#fefefe" opacity="0.9"/>
<circle cx="14.7" cy="28.7" r="0.55" fill="#fefefe" opacity="0.9"/>
<circle cx="24.5" cy="16.3" r="0.73" fill="#fefefe" opacity="0.9"/>
<circle cx="13.7" cy="4.2" r="0.64" fill="#fefefe" opacity="0.9"/>
<circle cx="10.8" cy="6.7" r="0.82" fill="#fefefe" opacity="0.9"/>
<circle cx="13.1" cy="18.0" r="0.91" fill="#fefefe" opacity="0.9"/>
<circle cx="33.3" cy="37.7" r="0.89" fill="#fefefe" opacity="0.9"/>
<circle cx="6.9" cy="12.8" r="0.51" fill="#fefefe" opacity="0.9"/>
<circle cx="29.4" cy="28.7" r="0.66" fill="#fefefe" opacity="0.9"/>
<circle cx="18.4" cy="28.5" r="0.81" fill="#fefefe" opacity="0.9"/>
<circle cx="11.7" cy="36.2" r="0.66" fill="#fefefe" opacity="0.9"/>
<circle cx="27.3" cy="8.9" r="0.55" fill="#fefefe" opacity="0.9"/>
<circle cx="38.9" cy="31.6" r="0.82" fill="#fefefe" opacity="0.9"/>
<circle cx="3.2" cy="3.1" r="0.57" fill="#fefefe" opacity="0.9"/>
<circle cx="9.6" cy="13.9" r="0.67" fill="#fefefe" opacity="0.9"/>
<circle cx="3.1" cy="14.2" r="0.79" fill="#fefefe" opacity="0.9"/>
<circle cx="8.9" cy="35.9" r="0.76" fill="#fefefe" opacity="0.9"/>
<circle cx="30.9" cy="11.9" r="0.70" fill="#fefefe" opacity="0.9"/>
<circle cx="29.6" cy="15.8" r="0.50" fill="#fefefe" opacity="0.9"/>
<circle cx="35.7" cy="33.3" r="0.63" fill="#fefefe" opacity="0.9"/>
<circle cx="3.3" cy="36.5" r="0.77" fill="#fefefe" opacity="0.9"/>
<circle cx="3.4" cy="11.5" r="0.55" fill="#fefefe" opacity="0.9"/>
<circle cx="33.9" cy="10.1" r="0.91" fill="#fefefe" opacity="0.9"/>
<circle cx="32.2" cy="5.0" r="0.81" fill="#fefefe" opacity="0.9"/>
<circle cx="17.6" cy="32.2" r="0.87" fill="#fefefe" opacity="0.9"/>
<circle cx="13.0" cy="5.2" r="0.93" fill="#fefefe" opacity="0.9"/>
<circle cx="18.9" cy="39.6" r="0.81" fill="#fefefe" opacity="0.9"/>
<circle cx="31.8" cy="35.5" r="0.78" fill="#fefefe" opacity="0.9"/>
<circle cx="20.1" cy="3.7" r="0.81" fill="#fefefe" opacity="0.9"/>
<circle cx="19.1" cy="22.5" r="0.92" fill="#fefefe" opacity="0.9"/>
<circle cx="6.7" cy="32.7" r="0.52" fill="#fefefe" opacity="0.9"/>
<circle cx="30.3" cy="34.5" r="0.62" fill="#fefefe" opacity="0.9"/>
<circle cx="23.9" cy="41.2" r="0.79" fill="#fefefe" opacity="0.9"/>
<circle cx="23.8" cy="11.7" r="0.53" fill="#fefefe" opacity="0.9"/>
<circle cx="16.2" cy="18.4" r="0.59" fill="#fefefe" opacity="0.9"/>
<circle cx="14.2" cy="7.1" r="0.82" fill="#fefefe" opacity="0.9"/>
<circle cx="29.0" cy="11.3" r="0.61" fill="#fefefe" opacity="0.9"/>
<circle cx="22.6" cy="19.7" r="0.92" fill="#fefefe" opacity="0.9"/>
<circle cx="15.9" cy="13.8" r="0.90" fill="#fefefe" opacity="0.9"/>
<circle cx="7.3" cy="24.6" r="0.65" fill="#fefefe" opacity="0.9"/>
<circle cx="34.9" cy="24.0" r="0.84" fill="#fefefe" opacity="0.9"/>
<circle cx="8.4" cy="28.8" r="0.77" fill="#fefefe" opacity="0.9"/>
<circle cx="20.4" cy="32.9" r="0.87" fill="#fefefe" opacity="0.9"/>
<circle cx="6.2" cy="13.4" r="0.78" fill="#e2e2e2" opacity="0.7"/>
<circle cx="10.0" cy="4.0" r="0.74" fill="#e2e2e2" opacity="0.7"/>
<circle cx="9.6" cy="30.3" r="0.82" fill="#e2e2e2" opacity="0.7"/>
<circle cx="6.1" cy="14.8" r="0.83" fill="#e2e2e2" opacity="0.7"/>
<circle cx="16.4" cy="8.4" r="0.64" fill="#e2e2e2" opacity="0.7"/>
<circle cx="1.9" cy="42.2" r="0.98" fill="#e2e2e2" opacity="0.7"/>
<circle cx="4.9" cy="30.9" r="1.09" fill="#e2e2e2" opacity="0.7"/>
<circle cx="24.6" cy="6.0" r="0.84" fill="#e2e2e2" opacity="0.7"/>
<circle cx="19.3" cy="9.3" r="0.87" fill="#e2e2e2" opacity="0.7"/>
<circle cx="1.8" cy="39.2" r="0.92" fill="#e2e2e2" opacity="0.7"/>
<circle cx="27.2" cy="39.8" r="0.93" fill="#e2e2e2" opacity="0.7"/>
<circle cx="11.8" cy="11.6" r="0.67" fill="#e2e2e2" opacity="0.7"/>
<circle cx="2.6" cy="33.3" r="1.02" fill="#e2e2e2" opacity="0.7"/>
<circle cx="13.6" cy="9.1" r="0.92" fill="#e2e2e2" opacity="0.7"/>
<circle cx="36.2" cy="39.5" r="0.68" fill="#e2e2e2" opacity="0.7"/>
<circle cx="33.7" cy="35.5" r="0.97" fill="#e2e2e2" opacity="0.7"/>
<circle cx="14.9" cy="9.1" r="1.01" fill="#e2e2e2" opacity="0.7"/>
<circle cx="14.6" cy="16.6" r="0.88" fill="#e2e2e2" opacity="0.7"/>
<circle cx="16.6" cy="35.6" r="0.72" fill="#e2e2e2" opacity="0.7"/>
<circle cx="3.2" cy="24.7" r="0.91" fill="#e2e2e2" opacity="0.7"/>
<circle cx="35.1" cy="30.4" r="1.05" fill="#e2e2e2" opacity="0.7"/>
<circle cx="40.2" cy="21.8" r="0.85" fill="#e2e2e2" opacity="0.7"/>
<circle cx="8.0" cy="13.8" r="0.89" fill="#e2e2e2" opacity="0.7"/>
<circle cx="4.8" cy="29.7" r="0.68" fill="#e2e2e2" opacity="0.7"/>
<circle cx="19.7" cy="41.3" r="0.64" fill="#e2e2e2" opacity="0.7"/>
<circle cx="3.1" cy="19.5" r="0.70" fill="#e2e2e2" opacity="0.7"/>
<circle cx="31.1" cy="1.6" r="1.02" fill="#e2e2e2" opacity="0.7"/>
<circle cx="36.6" cy="33.8" r="0.81" fill="#e2e2e2" opacity="0.7"/>
<circle cx="13.1" cy="28.6" r="0.86" fill="#e2e2e2" opacity="0.7"/>
<circle cx="18.8" cy="15.4" r="0.82" fill="#e2e2e2" opacity="0.7"/>
<circle cx="28.8" cy="35.4" r="1.05" fill="#e2e2e2" opacity="0.7"/>
<circle cx="8.2" cy="13.6" r="0.82" fill="#e2e2e2" opacity="0.7"/>
<circle cx="24.6" cy="15.8" r="0.70" fill="#e2e2e2" opacity="0.7"/>
<circle cx="5.0" cy="14.8" r="0.83" fill="#e2e2e2" opacity="0.7"/>
<circle cx="41.3" cy="38.8" r="1.03" fill="#e2e2e2" opacity="0.7"/>
<circle cx="41.4" cy="40.9" r="0.91" fill="#e2e2e2" opacity="0.7"/>
<circle cx="34.8" cy="4.0" r="0.94" fill="#e2e2e2" opacity="0.7"/>
<circle cx="26.5" cy="13.7" r="0.89" fill="#e2e2e2" opacity="0.7"/>
<circle cx="40.6" cy="21.2" r="0.92" fill="#e2e2e2" opacity="0.7"/>
<circle cx="13.8" cy="15.6" r="1.04" fill="#e2e2e2" opacity="0.7"/>
</pattern>
<pattern id="grate" width="2" height="2" patternUnits="userSpaceOnUse"><rect width="2" height="2" fill="#f0f0f0"/><path d="M0 0H2M0 0V2" stroke="#cdcdcd" stroke-width="0.4"/></pattern>
<pattern id="stairs" width="2.9" height="4" patternUnits="userSpaceOnUse"><rect width="2.9" height="4" fill="#e8e8e8"/><path d="M0 0V4" stroke="#d4d4d4" stroke-width="0.45"/></pattern>
</defs>
<polygon points="218.2,389.9 232.9,389.9 232.9,418.8 370.6,418.8 370.6,433.6 326.0,433.6 141.8,471.4 137.7,457.0 171.5,450.4 218.2,405.5" fill="#f6f6f6" stroke="#bcbcbc" stroke-width="0.55" />
<polyline points="141.8,569.6 326,529.2 626.4,528.6" fill="none" stroke="#c4c4c4" stroke-width="0.6"/>
<line x1="296.5" y1="103.4" x2="296.5" y2="149.0" stroke="#c6c6c6" stroke-width="0.5" />
<line x1="315.0" y1="103.4" x2="315.0" y2="149.0" stroke="#c6c6c6" stroke-width="0.5" />
<line x1="331.6" y1="103.4" x2="331.6" y2="149.0" stroke="#c6c6c6" stroke-width="0.5" />
<line x1="353.3" y1="103.4" x2="353.3" y2="149.0" stroke="#c6c6c6" stroke-width="0.5" />
<line x1="375.4" y1="103.4" x2="375.4" y2="149.0" stroke="#c6c6c6" stroke-width="0.5" />
<line x1="396.5" y1="103.4" x2="396.5" y2="149.0" stroke="#c6c6c6" stroke-width="0.5" />
<line x1="413.8" y1="103.4" x2="413.8" y2="149.0" stroke="#c6c6c6" stroke-width="0.5" />
<line x1="434.9" y1="103.4" x2="434.9" y2="149.0" stroke="#c6c6c6" stroke-width="0.5" />
<line x1="456.8" y1="103.4" x2="456.8" y2="149.0" stroke="#c6c6c6" stroke-width="0.5" />
<line x1="479.0" y1="103.4" x2="479.0" y2="149.0" stroke="#c6c6c6" stroke-width="0.5" />
<line x1="500.8" y1="103.4" x2="500.8" y2="149.0" stroke="#c6c6c6" stroke-width="0.5" />
<line x1="523.2" y1="103.4" x2="523.2" y2="149.0" stroke="#c6c6c6" stroke-width="0.5" />
<line x1="543.5" y1="123.5" x2="543.5" y2="149.3" stroke="#c6c6c6" stroke-width="0.5" />
<line x1="375.4" y1="126.2" x2="413.8" y2="126.2" stroke="#c6c6c6" stroke-width="0.5" />
<line x1="434.9" y1="126.3" x2="456.8" y2="126.3" stroke="#c6c6c6" stroke-width="0.5" />
<line x1="500.8" y1="126.3" x2="523.2" y2="126.3" stroke="#c6c6c6" stroke-width="0.5" />
<line x1="224.0" y1="130.2" x2="583.0" y2="130.2" stroke="#d6d6d6" stroke-width="0.45" />
<line x1="278.0" y1="138.8" x2="537.6" y2="138.8" stroke="#d6d6d6" stroke-width="0.45" />
<line x1="224.0" y1="132.9" x2="278.0" y2="132.9" stroke="#c6c6c6" stroke-width="0.5" />
<line x1="224.0" y1="131.5" x2="224.0" y2="177.5" stroke="#c6c6c6" stroke-width="0.5" />
<line x1="224.0" y1="237.4" x2="224.0" y2="283.5" stroke="#c6c6c6" stroke-width="0.5" />
<line x1="224.0" y1="344.3" x2="224.0" y2="390.0" stroke="#c6c6c6" stroke-width="0.5" />
<line x1="251.4" y1="103.4" x2="251.4" y2="418.8" stroke="#cacaca" stroke-width="0.5" />
<line x1="266.5" y1="149.0" x2="266.5" y2="303.0" stroke="#dddddd" stroke-width="0.4" />
<line x1="278.3" y1="103.4" x2="278.3" y2="149.0" stroke="#c6c6c6" stroke-width="0.5" />
<line x1="232.7" y1="118.5" x2="278.3" y2="118.5" stroke="#c6c6c6" stroke-width="0.5" />
<line x1="224.0" y1="133.3" x2="278.3" y2="133.3" stroke="#c6c6c6" stroke-width="0.5" />
<line x1="224.0" y1="149.2" x2="278.3" y2="149.2" stroke="#c6c6c6" stroke-width="0.5" />
<line x1="224.0" y1="161.4" x2="278.3" y2="161.4" stroke="#c6c6c6" stroke-width="0.5" />
<line x1="224.0" y1="170.6" x2="278.3" y2="170.6" stroke="#c6c6c6" stroke-width="0.5" />
<line x1="232.7" y1="186.3" x2="278.3" y2="186.3" stroke="#c6c6c6" stroke-width="0.5" />
<line x1="232.7" y1="201.5" x2="278.3" y2="201.5" stroke="#c6c6c6" stroke-width="0.5" />
<line x1="232.7" y1="219.3" x2="278.3" y2="219.3" stroke="#c6c6c6" stroke-width="0.5" />
<line x1="232.7" y1="233.2" x2="278.3" y2="233.2" stroke="#c6c6c6" stroke-width="0.5" />
<line x1="224.0" y1="247.2" x2="278.3" y2="247.2" stroke="#c6c6c6" stroke-width="0.5" />
<line x1="224.0" y1="259.7" x2="278.3" y2="259.7" stroke="#c6c6c6" stroke-width="0.5" />
<line x1="224.0" y1="274.4" x2="278.3" y2="274.4" stroke="#c6c6c6" stroke-width="0.5" />
<line x1="232.7" y1="287.2" x2="278.3" y2="287.2" stroke="#c6c6c6" stroke-width="0.5" />
<line x1="232.7" y1="300.3" x2="278.3" y2="300.3" stroke="#c6c6c6" stroke-width="0.5" />
<line x1="256.2" y1="103.4" x2="256.2" y2="118.5" stroke="#c6c6c6" stroke-width="0.5" />
<line x1="243.6" y1="186.3" x2="243.6" y2="201.5" stroke="#c6c6c6" stroke-width="0.5" />
<line x1="255.2" y1="201.5" x2="255.2" y2="219.3" stroke="#c6c6c6" stroke-width="0.5" />
<line x1="261.1" y1="247.2" x2="261.1" y2="259.7" stroke="#c6c6c6" stroke-width="0.5" />
<line x1="255.5" y1="287.2" x2="255.5" y2="300.3" stroke="#c6c6c6" stroke-width="0.5" />
<line x1="243.0" y1="316.3" x2="243.0" y2="330.2" stroke="#c6c6c6" stroke-width="0.5" />
<line x1="259.6" y1="330.2" x2="259.6" y2="344.2" stroke="#c6c6c6" stroke-width="0.5" />
<line x1="232.7" y1="316.3" x2="278.3" y2="316.3" stroke="#c6c6c6" stroke-width="0.5" />
<line x1="232.7" y1="330.2" x2="278.3" y2="330.2" stroke="#c6c6c6" stroke-width="0.5" />
<line x1="232.7" y1="344.2" x2="278.3" y2="344.2" stroke="#c6c6c6" stroke-width="0.5" />
<line x1="224.0" y1="358.9" x2="314.7" y2="358.9" stroke="#c6c6c6" stroke-width="0.5" />
<line x1="224.0" y1="377.6" x2="326.7" y2="377.6" stroke="#c6c6c6" stroke-width="0.5" />
<line x1="232.7" y1="395.2" x2="329.8" y2="395.2" stroke="#c6c6c6" stroke-width="0.5" />
<line x1="232.7" y1="409.2" x2="329.8" y2="409.2" stroke="#c6c6c6" stroke-width="0.5" />
<line x1="278.3" y1="316.2" x2="287.3" y2="316.2" stroke="#c6c6c6" stroke-width="0.5" />
<line x1="278.3" y1="330.2" x2="296.3" y2="330.2" stroke="#c6c6c6" stroke-width="0.5" />
<line x1="278.3" y1="344.2" x2="305.2" y2="344.2" stroke="#c6c6c6" stroke-width="0.5" />
<line x1="277.1" y1="344.2" x2="277.1" y2="358.9" stroke="#c6c6c6" stroke-width="0.5" />
<line x1="272.4" y1="358.9" x2="272.4" y2="377.6" stroke="#c6c6c6" stroke-width="0.5" />
<line x1="256.8" y1="377.6" x2="256.8" y2="395.2" stroke="#c6c6c6" stroke-width="0.5" />
<line x1="288.3" y1="377.6" x2="288.3" y2="395.2" stroke="#c6c6c6" stroke-width="0.5" />
<line x1="242.8" y1="395.2" x2="242.8" y2="409.2" stroke="#c6c6c6" stroke-width="0.5" />
<line x1="281.3" y1="395.2" x2="281.3" y2="409.2" stroke="#c6c6c6" stroke-width="0.5" />
<line x1="246.3" y1="409.2" x2="246.3" y2="418.8" stroke="#c6c6c6" stroke-width="0.5" />
<line x1="310.5" y1="395.2" x2="310.5" y2="409.2" stroke="#c6c6c6" stroke-width="0.5" />
<line x1="592.0" y1="131.5" x2="592.0" y2="177.5" stroke="#c6c6c6" stroke-width="0.5" />
<line x1="592.0" y1="237.9" x2="592.0" y2="283.8" stroke="#c6c6c6" stroke-width="0.5" />
<line x1="592.0" y1="344.4" x2="592.0" y2="390.1" stroke="#c6c6c6" stroke-width="0.5" />
<line x1="547.8" y1="149.0" x2="547.8" y2="303.0" stroke="#dddddd" stroke-width="0.4" />
<line x1="537.6" y1="149.3" x2="565.0" y2="149.3" stroke="#c6c6c6" stroke-width="0.5" />
<line x1="537.6" y1="163.5" x2="592.0" y2="163.5" stroke="#c6c6c6" stroke-width="0.5" />
<line x1="537.6" y1="174.4" x2="592.0" y2="174.4" stroke="#c6c6c6" stroke-width="0.5" />
<line x1="537.6" y1="184.3" x2="583.3" y2="184.3" stroke="#c6c6c6" stroke-width="0.5" />
<line x1="537.6" y1="205.6" x2="583.3" y2="205.6" stroke="#c6c6c6" stroke-width="0.5" />
<line x1="537.6" y1="216.0" x2="583.3" y2="216.0" stroke="#c6c6c6" stroke-width="0.5" />
<line x1="537.6" y1="235.8" x2="583.3" y2="235.8" stroke="#c6c6c6" stroke-width="0.5" />
<line x1="537.6" y1="263.2" x2="592.0" y2="263.2" stroke="#c6c6c6" stroke-width="0.5" />
<line x1="537.6" y1="283.8" x2="583.3" y2="283.8" stroke="#c6c6c6" stroke-width="0.5" />
<line x1="537.6" y1="293.0" x2="583.3" y2="293.0" stroke="#c6c6c6" stroke-width="0.5" />
<line x1="537.6" y1="314.6" x2="565.5" y2="314.6" stroke="#c6c6c6" stroke-width="0.5" />
<line x1="537.6" y1="331.9" x2="583.3" y2="331.9" stroke="#c6c6c6" stroke-width="0.5" />
<line x1="537.6" y1="349.2" x2="592.0" y2="349.2" stroke="#c6c6c6" stroke-width="0.5" />
<line x1="537.6" y1="363.4" x2="592.0" y2="363.4" stroke="#c6c6c6" stroke-width="0.5" />
<line x1="537.6" y1="373.4" x2="565.5" y2="373.4" stroke="#c6c6c6" stroke-width="0.5" />
<line x1="537.6" y1="382.9" x2="565.5" y2="382.9" stroke="#c6c6c6" stroke-width="0.5" />
<line x1="537.6" y1="395.3" x2="583.3" y2="395.3" stroke="#c6c6c6" stroke-width="0.5" />
<line x1="537.6" y1="408.8" x2="583.3" y2="408.8" stroke="#c6c6c6" stroke-width="0.5" />
<line x1="551.1" y1="149.3" x2="551.1" y2="163.5" stroke="#c6c6c6" stroke-width="0.5" />
<line x1="566.3" y1="163.5" x2="566.3" y2="174.4" stroke="#c6c6c6" stroke-width="0.5" />
<line x1="564.0" y1="174.4" x2="564.0" y2="184.3" stroke="#c6c6c6" stroke-width="0.5" />
<line x1="558.2" y1="184.3" x2="558.2" y2="205.6" stroke="#c6c6c6" stroke-width="0.5" />
<line x1="549.4" y1="205.6" x2="549.4" y2="216.0" stroke="#c6c6c6" stroke-width="0.5" />
<line x1="566.3" y1="205.6" x2="566.3" y2="216.0" stroke="#c6c6c6" stroke-width="0.5" />
<line x1="557.7" y1="216.0" x2="557.7" y2="235.8" stroke="#c6c6c6" stroke-width="0.5" />
<line x1="565.5" y1="235.8" x2="565.5" y2="263.2" stroke="#c6c6c6" stroke-width="0.5" />
<line x1="569.4" y1="263.2" x2="569.4" y2="283.8" stroke="#c6c6c6" stroke-width="0.5" />
<line x1="590.5" y1="238.0" x2="590.5" y2="283.8" stroke="#c6c6c6" stroke-width="0.5" />
<line x1="560.8" y1="331.9" x2="560.8" y2="349.2" stroke="#c6c6c6" stroke-width="0.5" />
<line x1="562.9" y1="349.2" x2="562.9" y2="363.4" stroke="#c6c6c6" stroke-width="0.5" />
<line x1="565.5" y1="363.4" x2="565.5" y2="395.3" stroke="#c6c6c6" stroke-width="0.5" />
<line x1="556.5" y1="395.3" x2="556.5" y2="418.7" stroke="#c6c6c6" stroke-width="0.5" />
<line x1="569.8" y1="395.3" x2="569.8" y2="418.7" stroke="#c6c6c6" stroke-width="0.5" />
<line x1="539.9" y1="408.8" x2="539.9" y2="418.7" stroke="#c6c6c6" stroke-width="0.5" />
<line x1="530.2" y1="314.2" x2="537.6" y2="314.2" stroke="#c6c6c6" stroke-width="0.5" />
<line x1="518.2" y1="332.4" x2="537.6" y2="332.4" stroke="#c6c6c6" stroke-width="0.5" />
<line x1="507.1" y1="349.2" x2="537.6" y2="349.2" stroke="#c6c6c6" stroke-width="0.5" />
<line x1="497.6" y1="363.5" x2="537.6" y2="363.5" stroke="#c6c6c6" stroke-width="0.5" />
<line x1="491.1" y1="373.4" x2="537.6" y2="373.4" stroke="#c6c6c6" stroke-width="0.5" />
<line x1="485.4" y1="383.4" x2="537.6" y2="383.4" stroke="#c6c6c6" stroke-width="0.5" />
<line x1="485.4" y1="395.3" x2="537.6" y2="395.3" stroke="#c6c6c6" stroke-width="0.5" />
<line x1="485.4" y1="408.8" x2="537.6" y2="408.8" stroke="#c6c6c6" stroke-width="0.5" />
<line x1="528.0" y1="332.4" x2="528.0" y2="349.2" stroke="#c6c6c6" stroke-width="0.5" />
<line x1="534.4" y1="349.2" x2="534.4" y2="363.5" stroke="#c6c6c6" stroke-width="0.5" />
<line x1="531.0" y1="363.5" x2="531.0" y2="373.4" stroke="#c6c6c6" stroke-width="0.5" />
<line x1="518.0" y1="373.4" x2="518.0" y2="383.4" stroke="#c6c6c6" stroke-width="0.5" />
<line x1="521.0" y1="383.4" x2="521.0" y2="395.3" stroke="#c6c6c6" stroke-width="0.5" />
<line x1="509.6" y1="395.3" x2="509.6" y2="408.8" stroke="#c6c6c6" stroke-width="0.5" />
<line x1="533.8" y1="395.3" x2="533.8" y2="408.8" stroke="#c6c6c6" stroke-width="0.5" />
<line x1="495.3" y1="408.8" x2="495.3" y2="418.7" stroke="#c6c6c6" stroke-width="0.5" />
<line x1="512.9" y1="408.8" x2="512.9" y2="418.7" stroke="#c6c6c6" stroke-width="0.5" />
<line x1="522.8" y1="408.8" x2="522.8" y2="418.7" stroke="#c6c6c6" stroke-width="0.5" />
<rect x="565.1" y="129.8" width="25.8" height="28.5" fill="none" stroke="#c6c6c6" stroke-width="0.5"/>
<rect x="565.5" y="294.7" width="17.8" height="26.0" fill="none" stroke="#c6c6c6" stroke-width="0.5"/>
<rect x="528.4" y="103.4" width="40.2" height="20" fill="url(#stairs)" stroke="#bcbcbc" stroke-width="0.4"/>
<rect x="572" y="132.9" width="9.9" height="24.2" fill="url(#grate)" stroke="#bbb" stroke-width="0.4"/>
<rect x="572" y="238.8" width="9.9" height="24.4" fill="url(#grate)" stroke="#bbb" stroke-width="0.4"/>
<rect x="572" y="302.1" width="10.8" height="9.0" fill="url(#grate)" stroke="#bbb" stroke-width="0.4"/>
<rect x="572" y="366.8" width="9.9" height="23.9" fill="url(#grate)" stroke="#bbb" stroke-width="0.4"/>
<line x1="218.2" y1="64.3" x2="322.2" y2="64.3" stroke="#d9d9d9" stroke-width="0.4" />
<line x1="488.6" y1="64.3" x2="597.7" y2="64.3" stroke="#d9d9d9" stroke-width="0.4" />
<line x1="218.2" y1="62.3" x2="218.2" y2="88.5" stroke="#e4e4e4" stroke-width="0.4" />
<line x1="232.6" y1="62.3" x2="232.6" y2="88.5" stroke="#e4e4e4" stroke-width="0.4" />
<line x1="241.6" y1="62.3" x2="241.6" y2="88.5" stroke="#e4e4e4" stroke-width="0.4" />
<line x1="281.2" y1="62.3" x2="281.2" y2="88.5" stroke="#e4e4e4" stroke-width="0.4" />
<line x1="299.0" y1="62.3" x2="299.0" y2="74.4" stroke="#e4e4e4" stroke-width="0.4" />
<line x1="313.4" y1="62.3" x2="313.4" y2="74.4" stroke="#e4e4e4" stroke-width="0.4" />
<line x1="322.2" y1="62.3" x2="322.2" y2="88.5" stroke="#e4e4e4" stroke-width="0.4" />
<line x1="488.6" y1="62.3" x2="488.6" y2="88.5" stroke="#e4e4e4" stroke-width="0.4" />
<line x1="497.0" y1="62.3" x2="497.0" y2="74.4" stroke="#e4e4e4" stroke-width="0.4" />
<line x1="511.6" y1="62.3" x2="511.6" y2="74.4" stroke="#e4e4e4" stroke-width="0.4" />
<line x1="528.5" y1="62.3" x2="528.5" y2="88.5" stroke="#e4e4e4" stroke-width="0.4" />
<line x1="568.7" y1="62.3" x2="568.7" y2="88.5" stroke="#e4e4e4" stroke-width="0.4" />
<line x1="583.4" y1="62.3" x2="583.4" y2="88.5" stroke="#e4e4e4" stroke-width="0.4" />
<line x1="597.7" y1="62.3" x2="597.7" y2="88.5" stroke="#e4e4e4" stroke-width="0.4" />
<line x1="209.2" y1="103.3" x2="209.2" y2="419.0" stroke="#d9d9d9" stroke-width="0.4" />
<line x1="607.3" y1="103.3" x2="607.3" y2="419.0" stroke="#d9d9d9" stroke-width="0.4" />
<line x1="207.5" y1="103.3" x2="224.0" y2="103.3" stroke="#e3e3e3" stroke-width="0.4" />
<line x1="592.0" y1="103.3" x2="609.0" y2="103.3" stroke="#e3e3e3" stroke-width="0.4" />
<line x1="207.5" y1="131.5" x2="224.0" y2="131.5" stroke="#e3e3e3" stroke-width="0.4" />
<line x1="592.0" y1="131.5" x2="609.0" y2="131.5" stroke="#e3e3e3" stroke-width="0.4" />
<line x1="207.5" y1="177.5" x2="224.0" y2="177.5" stroke="#e3e3e3" stroke-width="0.4" />
<line x1="592.0" y1="177.5" x2="609.0" y2="177.5" stroke="#e3e3e3" stroke-width="0.4" />
<line x1="207.5" y1="237.4" x2="224.0" y2="237.4" stroke="#e3e3e3" stroke-width="0.4" />
<line x1="592.0" y1="237.4" x2="609.0" y2="237.4" stroke="#e3e3e3" stroke-width="0.4" />
<line x1="207.5" y1="283.5" x2="224.0" y2="283.5" stroke="#e3e3e3" stroke-width="0.4" />
<line x1="592.0" y1="283.5" x2="609.0" y2="283.5" stroke="#e3e3e3" stroke-width="0.4" />
<line x1="207.5" y1="344.3" x2="224.0" y2="344.3" stroke="#e3e3e3" stroke-width="0.4" />
<line x1="592.0" y1="344.3" x2="609.0" y2="344.3" stroke="#e3e3e3" stroke-width="0.4" />
<line x1="207.5" y1="390.0" x2="224.0" y2="390.0" stroke="#e3e3e3" stroke-width="0.4" />
<line x1="592.0" y1="390.0" x2="609.0" y2="390.0" stroke="#e3e3e3" stroke-width="0.4" />
<line x1="207.5" y1="419.0" x2="224.0" y2="419.0" stroke="#e3e3e3" stroke-width="0.4" />
<line x1="592.0" y1="419.0" x2="609.0" y2="419.0" stroke="#e3e3e3" stroke-width="0.4" />
<line x1="241.6" y1="96.5" x2="583.0" y2="96.5" stroke="#e6e6e6" stroke-width="0.4" />
<line x1="408.6" y1="75.0" x2="408.6" y2="457.0" stroke="#e0e0e0" stroke-width="0.4" stroke-dasharray="1.5 2.5"/>
<line x1="183.0" y1="266.9" x2="278.0" y2="266.9" stroke="#ededed" stroke-width="0.4" />
<line x1="538.0" y1="266.9" x2="629.0" y2="266.9" stroke="#ededed" stroke-width="0.4" />
<line x1="183.0" y1="265.6" x2="183.0" y2="268.2" stroke="#d8d8d8" stroke-width="0.4" />
<line x1="629.0" y1="265.6" x2="629.0" y2="268.2" stroke="#d8d8d8" stroke-width="0.4" />
<line x1="268.0" y1="306.0" x2="320.0" y2="387.0" stroke="#e0e0e0" stroke-width="0.4" />
<line x1="548.0" y1="306.0" x2="496.0" y2="387.0" stroke="#e0e0e0" stroke-width="0.4" />
<line x1="319.2" y1="377.0" x2="319.2" y2="418.8" stroke="#e0e0e0" stroke-width="0.4" />
<line x1="496.9" y1="377.0" x2="496.9" y2="418.8" stroke="#e0e0e0" stroke-width="0.4" />
<path d="M322.2 57.5A31 31 0 0 1 353.3 88.5M384.4 57.5A31 31 0 0 0 353.3 88.5M425.6 57A31.5 31.5 0 0 1 457.1 88.5M488.6 57A31.5 31.5 0 0 0 457.1 88.5" fill="none" stroke="#e8e8e8" stroke-width="0.5"/>
<line x1="322.2" y1="57.5" x2="322.2" y2="88.5" stroke="#e8e8e8" stroke-width="0.5" />
<line x1="384.4" y1="57.5" x2="384.4" y2="88.5" stroke="#e8e8e8" stroke-width="0.5" />
<line x1="425.6" y1="57.0" x2="425.6" y2="88.5" stroke="#e8e8e8" stroke-width="0.5" />
<line x1="488.6" y1="57.0" x2="488.6" y2="88.5" stroke="#e8e8e8" stroke-width="0.5" />
<line x1="322.2" y1="88.6" x2="384.4" y2="88.6" stroke="#e2e2e2" stroke-width="0.4" />
<line x1="425.6" y1="88.6" x2="488.6" y2="88.6" stroke="#e2e2e2" stroke-width="0.4" />
<line x1="322.2" y1="103.3" x2="384.4" y2="103.3" stroke="#d8d8d8" stroke-width="0.4" />
<line x1="425.6" y1="103.3" x2="488.6" y2="103.3" stroke="#d8d8d8" stroke-width="0.4" />
<line x1="241.6" y1="88.6" x2="281.2" y2="88.6" stroke="#d6d6d6" stroke-width="0.4" />
<line x1="241.6" y1="92.0" x2="281.2" y2="92.0" stroke="#dedede" stroke-width="0.4" />
<line x1="241.6" y1="103.3" x2="281.2" y2="103.3" stroke="#d0d0d0" stroke-width="0.4" />
<line x1="528.5" y1="88.6" x2="568.7" y2="88.6" stroke="#d6d6d6" stroke-width="0.4" />
<line x1="528.5" y1="92.0" x2="568.7" y2="92.0" stroke="#dedede" stroke-width="0.4" />
<polygon points="198.3,88.5 241.6,88.5 241.6,103.3 232.6,103.3 232.6,131.5 218.2,131.5 218.2,103.3 198.3,103.3" fill="#f5f5f5" stroke="#b6b6b6" stroke-width="0.55" />
<polygon points="281.2,88.5 298.6,88.5 298.6,74.3 313.3,74.3 313.3,88.5 322.2,88.5 322.2,103.4 281.2,103.4" fill="#f5f5f5" stroke="#b6b6b6" stroke-width="0.55" />
<rect x="384.4" y="88.5" width="41.2" height="14.9" fill="#f5f5f5" stroke="#b6b6b6" stroke-width="0.55"/>
<polygon points="488.6,88.5 497.0,88.5 497.0,74.4 511.6,74.4 511.6,88.5 528.5,88.5 528.5,103.4 488.6,103.4" fill="#f5f5f5" stroke="#b6b6b6" stroke-width="0.55" />
<polygon points="568.4,88.5 640.9,88.5 640.9,103.3 597.6,103.3 597.6,131.5 583.0,131.5 583.0,103.3 568.4,103.3" fill="#f5f5f5" stroke="#b6b6b6" stroke-width="0.55" />
<rect x="218.1" y="177.5" width="14.6" height="59.9" fill="#f5f5f5" stroke="#b6b6b6" stroke-width="0.55"/>
<rect x="218.1" y="283.5" width="14.6" height="60.8" fill="#f5f5f5" stroke="#b6b6b6" stroke-width="0.55"/>
<rect x="583.3" y="177.7" width="14.2" height="60.2" fill="#f5f5f5" stroke="#b6b6b6" stroke-width="0.55"/>
<polygon points="583.3,283.8 597.5,283.8 597.5,286.9 640.7,286.9 640.7,301.6 597.5,301.6 597.5,344.4 583.3,344.4" fill="#f5f5f5" stroke="#b6b6b6" stroke-width="0.55" />
<polygon points="583.3,390.1 597.5,390.1 597.5,418.7 626.5,418.7 626.5,433.4 445.4,433.4 445.4,418.7 583.3,418.7" fill="#f5f5f5" stroke="#b6b6b6" stroke-width="0.55" />
<line x1="583.3" y1="418.7" x2="597.5" y2="418.7" stroke="#d8d8d8" stroke-width="0.4" />
<line x1="583.3" y1="418.7" x2="583.3" y2="427.3" stroke="#c8c8c8" stroke-width="0.45" />
<line x1="597.5" y1="418.7" x2="597.5" y2="427.3" stroke="#c8c8c8" stroke-width="0.45" />
<line x1="218.2" y1="418.8" x2="218.2" y2="427.3" stroke="#d0d0d0" stroke-width="0.45" />
<line x1="232.9" y1="418.8" x2="232.9" y2="427.3" stroke="#d0d0d0" stroke-width="0.45" />
<line x1="209.3" y1="427.3" x2="370.6" y2="427.3" stroke="#dedede" stroke-width="0.4" />
<line x1="445.4" y1="427.3" x2="607.3" y2="427.3" stroke="#dedede" stroke-width="0.4" />
<line x1="209.3" y1="419.0" x2="209.3" y2="427.3" stroke="#d9d9d9" stroke-width="0.4" />
<line x1="607.3" y1="419.0" x2="607.3" y2="427.3" stroke="#d9d9d9" stroke-width="0.4" />
<line x1="370.6" y1="425.0" x2="445.4" y2="425.0" stroke="#e3e3e3" stroke-width="0.4" />
<polygon points="281.2,152.2 379.1,152.2 379.1,238.4 281.2,238.4" fill="url(#gravel)"/>
<polygon points="436.6,152.2 534.6,152.2 534.6,238.4 436.6,238.4" fill="url(#gravel)"/>
<polygon points="281.2,295 379,295 379,418.8 332.2,418.8 332.2,381.8 281.2,301.6" fill="url(#gravel)"/>
<polygon points="436.6,295 534.6,295 534.6,303.6 483,382.6 483,418.8 436.6,418.8" fill="url(#gravel)"/>
<path d="M380 382.7A37 37 0 0 1 407.6 418.5M436.2 382.7A37 37 0 0 0 408.6 418.5" fill="none" stroke="#ebebeb" stroke-width="0.5"/>
<polyline points="329.8,418.8 329.8,382.5 278.3,302.2 278.3,149.3 537.6,149.3 537.6,303 485.4,382 485.4,418.8" fill="none" stroke="#7c7c7c" stroke-width="0.8"/>
<polyline points="332.2,418.8 332.2,381.8 281.2,301.6 281.2,152.2 534.6,152.2 534.6,303.6 483,382.6 483,418.8" fill="none" stroke="#adadad" stroke-width="0.55"/>
<rect x="378.8" y="206" width="58.0" height="122" fill="#e3e6e7"/>
<line x1="378.8" y1="211.5" x2="436.8" y2="211.5" stroke="#bfc5c8" stroke-width="0.5" />
<line x1="378.8" y1="322.5" x2="436.8" y2="322.5" stroke="#bfc5c8" stroke-width="0.5" />
<line x1="378.8" y1="217.0" x2="436.8" y2="217.0" stroke="#bfc5c8" stroke-width="0.5" />
<line x1="378.8" y1="317.0" x2="436.8" y2="317.0" stroke="#bfc5c8" stroke-width="0.5" />
<line x1="378.8" y1="222.4" x2="436.8" y2="222.4" stroke="#bfc5c8" stroke-width="0.5" />
<line x1="378.8" y1="311.6" x2="436.8" y2="311.6" stroke="#bfc5c8" stroke-width="0.5" />
<line x1="378.8" y1="227.8" x2="436.8" y2="227.8" stroke="#bfc5c8" stroke-width="0.5" />
<line x1="378.8" y1="306.2" x2="436.8" y2="306.2" stroke="#bfc5c8" stroke-width="0.5" />
<line x1="378.8" y1="232.7" x2="436.8" y2="232.7" stroke="#bfc5c8" stroke-width="0.5" />
<line x1="378.8" y1="301.3" x2="436.8" y2="301.3" stroke="#bfc5c8" stroke-width="0.5" />
<line x1="378.8" y1="237.5" x2="436.8" y2="237.5" stroke="#bfc5c8" stroke-width="0.5" />
<line x1="378.8" y1="296.5" x2="436.8" y2="296.5" stroke="#bfc5c8" stroke-width="0.5" />
<line x1="378.8" y1="241.8" x2="436.8" y2="241.8" stroke="#bfc5c8" stroke-width="0.5" />
<line x1="378.8" y1="292.2" x2="436.8" y2="292.2" stroke="#bfc5c8" stroke-width="0.5" />
<line x1="378.8" y1="245.4" x2="436.8" y2="245.4" stroke="#bfc5c8" stroke-width="0.5" />
<line x1="378.8" y1="288.6" x2="436.8" y2="288.6" stroke="#bfc5c8" stroke-width="0.5" />
<line x1="378.8" y1="248.4" x2="436.8" y2="248.4" stroke="#bfc5c8" stroke-width="0.5" />
<line x1="378.8" y1="285.6" x2="436.8" y2="285.6" stroke="#bfc5c8" stroke-width="0.5" />
<line x1="378.8" y1="250.9" x2="436.8" y2="250.9" stroke="#bfc5c8" stroke-width="0.5" />
<line x1="378.8" y1="283.1" x2="436.8" y2="283.1" stroke="#bfc5c8" stroke-width="0.5" />
<line x1="378.8" y1="253.2" x2="436.8" y2="253.2" stroke="#bfc5c8" stroke-width="0.5" />
<line x1="378.8" y1="280.8" x2="436.8" y2="280.8" stroke="#bfc5c8" stroke-width="0.5" />
<line x1="378.8" y1="255.1" x2="436.8" y2="255.1" stroke="#bfc5c8" stroke-width="0.5" />
<line x1="378.8" y1="278.9" x2="436.8" y2="278.9" stroke="#bfc5c8" stroke-width="0.5" />
<line x1="378.8" y1="256.7" x2="436.8" y2="256.7" stroke="#bfc5c8" stroke-width="0.5" />
<line x1="378.8" y1="277.3" x2="436.8" y2="277.3" stroke="#bfc5c8" stroke-width="0.5" />
<line x1="378.8" y1="258.1" x2="436.8" y2="258.1" stroke="#bfc5c8" stroke-width="0.5" />
<line x1="378.8" y1="275.9" x2="436.8" y2="275.9" stroke="#bfc5c8" stroke-width="0.5" />
<line x1="378.8" y1="259.3" x2="436.8" y2="259.3" stroke="#bfc5c8" stroke-width="0.5" />
<line x1="378.8" y1="274.7" x2="436.8" y2="274.7" stroke="#bfc5c8" stroke-width="0.5" />
<line x1="378.8" y1="260.4" x2="436.8" y2="260.4" stroke="#bfc5c8" stroke-width="0.5" />
<line x1="378.8" y1="273.6" x2="436.8" y2="273.6" stroke="#bfc5c8" stroke-width="0.5" />
<rect x="378.8" y="255.5" width="58.0" height="5.7" fill="#aeb4b7" opacity="0.35"/>
<rect x="378.8" y="272" width="58.0" height="5.7" fill="#aeb4b7" opacity="0.35"/>
<line x1="378.8" y1="206.0" x2="378.8" y2="328.0" stroke="#b6bdc1" stroke-width="0.55" />
<line x1="381.0" y1="206.0" x2="381.0" y2="328.0" stroke="#dde1e3" stroke-width="0.35" />
<line x1="383.3" y1="206.0" x2="383.3" y2="328.0" stroke="#b6bdc1" stroke-width="0.55" />
<line x1="385.5" y1="206.0" x2="385.5" y2="328.0" stroke="#dde1e3" stroke-width="0.35" />
<line x1="387.7" y1="206.0" x2="387.7" y2="328.0" stroke="#b6bdc1" stroke-width="0.55" />
<line x1="390.0" y1="206.0" x2="390.0" y2="328.0" stroke="#dde1e3" stroke-width="0.35" />
<line x1="392.2" y1="206.0" x2="392.2" y2="328.0" stroke="#b6bdc1" stroke-width="0.55" />
<line x1="394.4" y1="206.0" x2="394.4" y2="328.0" stroke="#dde1e3" stroke-width="0.35" />
<line x1="396.6" y1="206.0" x2="396.6" y2="328.0" stroke="#b6bdc1" stroke-width="0.55" />
<line x1="398.9" y1="206.0" x2="398.9" y2="328.0" stroke="#dde1e3" stroke-width="0.35" />
<line x1="401.1" y1="206.0" x2="401.1" y2="328.0" stroke="#b6bdc1" stroke-width="0.55" />
<line x1="403.3" y1="206.0" x2="403.3" y2="328.0" stroke="#dde1e3" stroke-width="0.35" />
<line x1="405.6" y1="206.0" x2="405.6" y2="328.0" stroke="#b6bdc1" stroke-width="0.55" />
<line x1="407.8" y1="206.0" x2="407.8" y2="328.0" stroke="#dde1e3" stroke-width="0.35" />
<line x1="410.0" y1="206.0" x2="410.0" y2="328.0" stroke="#b6bdc1" stroke-width="0.55" />
<line x1="412.3" y1="206.0" x2="412.3" y2="328.0" stroke="#dde1e3" stroke-width="0.35" />
<line x1="414.5" y1="206.0" x2="414.5" y2="328.0" stroke="#b6bdc1" stroke-width="0.55" />
<line x1="416.7" y1="206.0" x2="416.7" y2="328.0" stroke="#dde1e3" stroke-width="0.35" />
<line x1="419.0" y1="206.0" x2="419.0" y2="328.0" stroke="#b6bdc1" stroke-width="0.55" />
<line x1="421.2" y1="206.0" x2="421.2" y2="328.0" stroke="#dde1e3" stroke-width="0.35" />
<line x1="423.4" y1="206.0" x2="423.4" y2="328.0" stroke="#b6bdc1" stroke-width="0.55" />
<line x1="425.6" y1="206.0" x2="425.6" y2="328.0" stroke="#dde1e3" stroke-width="0.35" />
<line x1="427.9" y1="206.0" x2="427.9" y2="328.0" stroke="#b6bdc1" stroke-width="0.55" />
<line x1="430.1" y1="206.0" x2="430.1" y2="328.0" stroke="#dde1e3" stroke-width="0.35" />
<line x1="432.3" y1="206.0" x2="432.3" y2="328.0" stroke="#b6bdc1" stroke-width="0.55" />
<line x1="434.6" y1="206.0" x2="434.6" y2="328.0" stroke="#dde1e3" stroke-width="0.35" />
<line x1="436.8" y1="206.0" x2="436.8" y2="328.0" stroke="#b6bdc1" stroke-width="0.55" />
<rect x="378.5" y="261.2" width="58.9" height="10.8" fill="#f6f7f7"/>
<rect x="387.7" y="259.6" width="4.5" height="14" fill="#f6f7f7"/>
<rect x="392.2" y="259.6" width="4.5" height="14" fill="#f6f7f7"/>
<rect x="414.5" y="259.6" width="4.5" height="14" fill="#f6f7f7"/>
<rect x="419.0" y="259.6" width="4.5" height="14" fill="#f6f7f7"/>
<line x1="378.8" y1="264.1" x2="436.8" y2="264.1" stroke="#cfd3d5" stroke-width="0.5" />
<line x1="380.1" y1="264.1" x2="436.8" y2="264.1" stroke="#6a6a6a" stroke-width="0.55" stroke-dasharray="1.3 3.16"/>
<line x1="378.8" y1="268.8" x2="436.8" y2="268.8" stroke="#cfd3d5" stroke-width="0.5" />
<line x1="380.1" y1="268.8" x2="436.8" y2="268.8" stroke="#6a6a6a" stroke-width="0.55" stroke-dasharray="1.3 3.16"/>
<line x1="378.8" y1="262.3" x2="436.8" y2="262.3" stroke="#d9dcde" stroke-width="0.4" />
<line x1="378.8" y1="270.8" x2="436.8" y2="270.8" stroke="#d9dcde" stroke-width="0.4" />
<path d="M322.0 108.2L333.3 107.1L337.0 105.3L340.3 103.8Q342.5 102.9 344.3 104.9L347.3 109.7L349.5 112.2L356.1 113.0Q357.5 112.0 359.0 113.0L362.7 114.4Q362.8 115.9 360.5 116.6L357.5 117.0L356.1 117.9L348.0 118.5L340.7 120.3L335.5 122.9L330.8 127.6Q328.9 128.4 328.2 126.5L327.5 123.2L332.6 119.6L333.3 112.0L322.0 112.2Z" fill="#fff" stroke="#787878" stroke-width="0.45" stroke-linejoin="round" stroke-linecap="round"/>
<path d="M340.3 103.8L339.2 111.9M344.3 104.9L342.3 112.6M322.0 109.5L333.3 108.9M322.0 110.8L333.3 110.6M356.1 113.0L356.4 117.7" fill="none" stroke="#9a9a9a" stroke-width="0.35" stroke-linejoin="round" stroke-linecap="round"/>
<ellipse cx="336.4" cy="116.3" rx="4.3" ry="4.2" fill="#000" transform="rotate(0 336.4 116.3)"/>
<path d="M392.8 176.3Q393.2 170.4 400.1 169.7Q407.0 170.4 408.0 176.3L407.4 182.9L406.0 187.4L403.9 187.4L404.2 182.9Q400.8 184.2 397.3 182.9L399.0 188.0L397.7 188.4L394.9 184.2Z" fill="#fff" stroke="#9c9c9c" stroke-width="0.42" stroke-linejoin="round" stroke-linecap="round"/>
<path d="M395.6 177.0Q396.3 173.5 400.1 172.8Q403.9 173.2 404.6 175.9L403.9 180.1Q402.2 182.5 399.7 182.0Q397.7 180.8 395.6 179.0Z" fill="#000"/>
<path d="M299.1 247.1L306.5 246.8L308.2 248.4L312.5 254.8L311.5 256.2L310.2 255.2L306.8 250.5L306.5 265.6L303.4 265.9L303.1 258.2L302.8 266.3L299.8 266.3L299.4 255.5L299.1 253.1L296.7 252.8L296.4 249.8Z" fill="#fff" stroke="#787878" stroke-width="0.45" stroke-linejoin="round" stroke-linecap="round"/>
<path d="M299.4 255.5L306.5 255.2M300.1 245.1L300.1 246.8L303.4 246.8L303.4 244.7" fill="none" stroke="#999" stroke-width="0.35" stroke-linejoin="round" stroke-linecap="round"/>
<path d="M297.3 244.4Q297.1 240.7 301.1 240.2Q304.5 240.4 305.1 243.1L304.5 244.2L302.4 243.4L300.1 245.2L298.1 245.1Z" fill="#000"/>
<path d="M321.9 252.1L319.6 260.9L320.3 264.2L321.9 263.2L323.3 266.3L325.0 265.3L326.3 260.9L328.7 258.2L329.0 262.9L331.0 262.6L331.7 251.5L337.1 256.5L338.6 255.2L333.0 248.8L330.3 248.1Z" fill="#fff" stroke="#787878" stroke-width="0.45" stroke-linejoin="round" stroke-linecap="round"/>
<path d="M320.9 247.4Q320.9 244.4 325.0 244.4Q328.7 245.1 330.0 248.1Q327.7 249.4 326.0 250.5L323.3 251.8Q321.3 250.5 320.9 247.4Z" fill="#000"/>
<path d="M305.1 272.6L305.8 270.5L316.5 267.0L317.4 268.7L309.4 272.3L313.3 278.7L320.7 285.0L320.0 287.4L318.2 287.2L312.6 283.3L309.7 284.7L308.0 281.5L305.5 278.0Z" fill="#fff" stroke="#787878" stroke-width="0.45" stroke-linejoin="round" stroke-linecap="round"/>
<path d="M309.4 272.3L306.5 274.1M308.3 281.1L313.3 278.7M309.7 284.7L312.6 280.4" fill="none" stroke="#999" stroke-width="0.35" stroke-linejoin="round" stroke-linecap="round"/>
<circle cx="301.9" cy="275.3" r="3.3" fill="#fff" stroke="#8a8a8a" stroke-width="0.4"/>
<path d="M298.5 274.4Q298.5 278.3 302.3 278.9Q304.4 278.7 305.1 276.5Q302.6 278.0 300.5 276.2Q299.4 275.1 299.1 273.7Z" fill="#000"/>
<path d="M332.4 276.2L334.6 279.0L335.4 283.3L334.6 286.1L328.9 286.7L327.1 284.7L330.3 279.0Z" fill="#fff" stroke="#787878" stroke-width="0.45" stroke-linejoin="round" stroke-linecap="round"/>
<path d="M329.9 280.1L333.5 281.5M328.5 283.3L333.8 284.0" fill="none" stroke="#999" stroke-width="0.35" stroke-linejoin="round" stroke-linecap="round"/>
<path d="M339.2 268.4L340.9 267.3L346.6 273.7L347.5 275.8L344.8 277.5L343.1 274.1Z" fill="#fff" stroke="#787878" stroke-width="0.45" stroke-linejoin="round" stroke-linecap="round"/>
<path d="M337.0 276.5Q341.6 276.9 343.1 281.1L346.6 282.6Q348.7 284.7 346.8 288.4Q344.5 288.6 343.1 285.4L341.6 283.3L335.6 283.6Q335.3 279.7 337.0 276.5Z" fill="#000"/>
<path d="M449.0 244.2Q445.5 244.9 445.4 249.1Q445.9 251.5 449.0 252.9L452.1 254.3L454.9 255.4L457.3 254.5L458.1 252.2L457.3 250.5Z" fill="#fff" stroke="#9c9c9c" stroke-width="0.42" stroke-linejoin="round" stroke-linecap="round"/>
<path d="M448.3 245.6Q450.4 243.5 454.5 244.6Q458.0 247.0 457.6 250.5L456.3 251.8L451.1 252.5Q448.7 250.5 448.3 245.6Z" fill="#000"/>
<path d="M467.7 259.1L460.8 260.1L456.3 262.9L451.1 268.4L451.8 270.7L458.0 271.6L467.7 270.7L470.4 268.4Z" fill="#fff" stroke="#9c9c9c" stroke-width="0.42" stroke-linejoin="round" stroke-linecap="round"/>
<path d="M457.3 262.6L463.5 261.5M451.8 269.5L462.8 269.1" fill="none" stroke="#b0b0b0" stroke-width="0.4" stroke-linejoin="round" stroke-linecap="round"/>
<path d="M463.9 265.0Q466.3 260.8 469.1 260.1Q471.1 260.8 471.8 265.0L471.1 269.1Q469.1 270.9 467.3 269.5Q464.2 267.8 463.9 265.0Z" fill="#000"/>
<path d="M391.2 357.2L395.6 353.6L400.9 354.8L405.0 360.7L403.6 364.8L399.7 365.7L395.0 365.4L392.1 361.3Z" fill="#fff" stroke="#9c9c9c" stroke-width="0.42" stroke-linejoin="round" stroke-linecap="round"/>
<rect x="394.0" y="357.2" width="7.3" height="7.6" rx="2.8" fill="#000"/>
<path d="M413.2 356.6L416.2 355.4L420.3 351.0L423.2 354.8L429.1 361.8L423.2 368.3L413.2 369.5L412.6 368.3Z" fill="#fff" stroke="#9c9c9c" stroke-width="0.42" stroke-linejoin="round" stroke-linecap="round"/>
<path d="M416.2 359.5Q418.5 357.4 421.5 358.6L423.8 361.3Q424.4 363.6 422.6 365.4L418.5 366.2L415.6 365.4Q415.3 363.6 416.2 361.8Z" fill="#000"/>
<path d="M538.6 383.6L546.0 379.3L549.0 381.0L550.3 386.6L550.7 392.7L549.4 394.8L551.6 396.1L551.1 398.3L549.0 399.2L548.5 403.1L546.0 405.2L543.8 404.8L543.4 402.2L545.1 399.2L542.9 395.3L541.6 393.5L540.8 387.5Z" fill="#fff" stroke="#787878" stroke-width="0.45" stroke-linejoin="round" stroke-linecap="round"/>
<path d="M531.2 385.3L537.7 383.2L541.6 391.4L540.3 393.5L533.8 390.5Z" fill="#fff" stroke="#787878" stroke-width="0.45" stroke-linejoin="round" stroke-linecap="round"/>
<path d="M533.0 385.8L540.8 392.2M546.0 379.3L549.0 393.5M542.9 395.3L549.4 394.8" fill="none" stroke="#999" stroke-width="0.35" stroke-linejoin="round" stroke-linecap="round"/>
<path d="M538.6 379.3Q539.5 375.8 542.9 376.1Q545.5 377.1 545.7 380.1Q544.2 382.3 541.2 382.0Q538.6 381.4 538.6 379.3Z" fill="#000"/>
<path d="M415.1 436.4L417.5 435.8Q418.8 442.2 423.3 445.3L428.2 442.2L428.5 436.4L431.6 436.4L431.9 442.2Q436.8 444.7 436.8 448.3Q435.6 451.4 431.9 451.4L425.2 453.2Q417.2 447.1 415.1 436.4Z" fill="#fff" stroke="#8c8c8c" stroke-width="0.45" stroke-linejoin="round" stroke-linecap="round"/>
<ellipse cx="428.1" cy="448" rx="3.35" ry="3.6" fill="#000" transform="rotate(0 428.1 448)"/>
<path d="M408.6 484.3V468.5" stroke="#666" stroke-width="0.6" fill="none"/><path d="M406.2 469.8L408.6 466.6L411 469.8Z" fill="#555"/>
<line x1="547.5" y1="550.3" x2="547.5" y2="557.0" stroke="#cfcfcf" stroke-width="0.4" />
<line x1="576.4" y1="550.3" x2="576.4" y2="557.0" stroke="#cfcfcf" stroke-width="0.4" />
<line x1="605.1" y1="550.3" x2="605.1" y2="557.0" stroke="#cfcfcf" stroke-width="0.4" />
<line x1="634.0" y1="550.3" x2="634.0" y2="557.0" stroke="#cfcfcf" stroke-width="0.4" />
<path d="M547.5 557.1H576.4V554.2H605.1V557.1H634V559.7H605.1V556.9H576.4V559.7H547.5Z" fill="#000"/>
<g style="filter:grayscale(1)">
<text class="sa" x="225.4" y="63.7" font-size="3.1" fill="#909090" text-anchor="middle" font-weight="normal" >380.00</text>
<text class="sa" x="237.1" y="63.7" font-size="3.1" fill="#909090" text-anchor="middle" font-weight="normal" >220.00</text>
<text class="sa" x="261.4" y="63.7" font-size="3.1" fill="#909090" text-anchor="middle" font-weight="normal" >1180.00</text>
<text class="sa" x="290.1" y="63.7" font-size="3.1" fill="#909090" text-anchor="middle" font-weight="normal" >380.00</text>
<text class="sa" x="306.2" y="63.7" font-size="3.1" fill="#909090" text-anchor="middle" font-weight="normal" >380.00</text>
<text class="sa" x="317.8" y="63.7" font-size="3.1" fill="#909090" text-anchor="middle" font-weight="normal" >220.00</text>
<text class="sa" x="492.8" y="63.7" font-size="3.1" fill="#909090" text-anchor="middle" font-weight="normal" >220.00</text>
<text class="sa" x="504.3" y="63.7" font-size="3.1" fill="#909090" text-anchor="middle" font-weight="normal" >380.00</text>
<text class="sa" x="520.0" y="63.7" font-size="3.1" fill="#909090" text-anchor="middle" font-weight="normal" >380.00</text>
<text class="sa" x="548.6" y="63.7" font-size="3.1" fill="#909090" text-anchor="middle" font-weight="normal" >1180.00</text>
<text class="sa" x="576.0" y="63.7" font-size="3.1" fill="#909090" text-anchor="middle" font-weight="normal" >380.00</text>
<text class="sa" x="590.5" y="63.7" font-size="3.1" fill="#909090" text-anchor="middle" font-weight="normal" >380.00</text>
<text class="sa" x="208.2" y="117.4" font-size="3.1" fill="#909090" text-anchor="middle" font-weight="normal" transform="rotate(-90 208.2 117.4)">760.00</text>
<text class="sa" x="606.3" y="117.4" font-size="3.1" fill="#909090" text-anchor="middle" font-weight="normal" transform="rotate(-90 606.3 117.4)">760.00</text>
<text class="sa" x="208.2" y="154.5" font-size="3.1" fill="#909090" text-anchor="middle" font-weight="normal" transform="rotate(-90 208.2 154.5)">1220.00</text>
<text class="sa" x="606.3" y="154.5" font-size="3.1" fill="#909090" text-anchor="middle" font-weight="normal" transform="rotate(-90 606.3 154.5)">1220.00</text>
<text class="sa" x="208.2" y="207.4" font-size="3.1" fill="#909090" text-anchor="middle" font-weight="normal" transform="rotate(-90 208.2 207.4)">1560.00</text>
<text class="sa" x="606.3" y="207.4" font-size="3.1" fill="#909090" text-anchor="middle" font-weight="normal" transform="rotate(-90 606.3 207.4)">1560.00</text>
<text class="sa" x="208.2" y="260.4" font-size="3.1" fill="#909090" text-anchor="middle" font-weight="normal" transform="rotate(-90 208.2 260.4)">1220.00</text>
<text class="sa" x="606.3" y="260.4" font-size="3.1" fill="#909090" text-anchor="middle" font-weight="normal" transform="rotate(-90 606.3 260.4)">1220.00</text>
<text class="sa" x="208.2" y="313.9" font-size="3.1" fill="#909090" text-anchor="middle" font-weight="normal" transform="rotate(-90 208.2 313.9)">1560.00</text>
<text class="sa" x="606.3" y="313.9" font-size="3.1" fill="#909090" text-anchor="middle" font-weight="normal" transform="rotate(-90 606.3 313.9)">1560.00</text>
<text class="sa" x="208.2" y="367.1" font-size="3.1" fill="#909090" text-anchor="middle" font-weight="normal" transform="rotate(-90 208.2 367.1)">1220.00</text>
<text class="sa" x="606.3" y="367.1" font-size="3.1" fill="#909090" text-anchor="middle" font-weight="normal" transform="rotate(-90 606.3 367.1)">1220.00</text>
<text class="sa" x="208.2" y="404.5" font-size="3.1" fill="#909090" text-anchor="middle" font-weight="normal" transform="rotate(-90 208.2 404.5)">760.00</text>
<text class="sa" x="606.3" y="404.5" font-size="3.1" fill="#909090" text-anchor="middle" font-weight="normal" transform="rotate(-90 606.3 404.5)">760.00</text>
<text class="sa" x="352.5" y="96.3" font-size="3.1" fill="#909090" text-anchor="middle" font-weight="normal" >1616.00</text>
<text class="sa" x="405.0" y="96.3" font-size="3.1" fill="#909090" text-anchor="middle" font-weight="normal" >1080.00</text>
<text class="sa" x="456.5" y="96.3" font-size="3.1" fill="#909090" text-anchor="middle" font-weight="normal" >1616.00</text>
<text class="sa" x="409.5" y="129.5" font-size="3.1" fill="#909090" text-anchor="middle" font-weight="normal" >13316.00</text>
<text class="sa" x="409.0" y="138.0" font-size="3.1" fill="#909090" text-anchor="middle" font-weight="normal" >14000.00</text>
<text class="sa" x="265.6" y="227.0" font-size="3.1" fill="#909090" text-anchor="middle" font-weight="normal" transform="rotate(-90 265.6 227)">2180.00</text>
<text class="sa" x="547.7" y="227.0" font-size="3.1" fill="#909090" text-anchor="middle" font-weight="normal" transform="rotate(-90 547.7 227)">2180.00</text>
<text class="sa" x="296.0" y="348.5" font-size="3.1" fill="#909090" text-anchor="middle" font-weight="normal" transform="rotate(57 296 348.5)">4260.00</text>
<text class="sa" x="521.0" y="348.5" font-size="3.1" fill="#909090" text-anchor="middle" font-weight="normal" transform="rotate(-57 521 348.5)">4260.00</text>
<text class="sa" x="318.3" y="400.0" font-size="3.1" fill="#909090" text-anchor="middle" font-weight="normal" transform="rotate(-90 318.3 400)">1000.00</text>
<text class="sa" x="498.3" y="400.0" font-size="3.1" fill="#909090" text-anchor="middle" font-weight="normal" transform="rotate(-90 498.3 400)">1000.00</text>
<text class="sa" x="225.5" y="426.3" font-size="2.9" fill="#8e8e8e" text-anchor="middle" font-weight="normal" >380.00</text>
<text class="sa" x="300.0" y="426.3" font-size="2.9" fill="#8e8e8e" text-anchor="middle" font-weight="normal" >3660.00</text>
<text class="sa" x="517.0" y="426.3" font-size="2.9" fill="#8e8e8e" text-anchor="middle" font-weight="normal" >3660.00</text>
<text class="sa" x="590.5" y="426.3" font-size="2.9" fill="#8e8e8e" text-anchor="middle" font-weight="normal" >380.00</text>
<text class="sa" x="405.5" y="426.3" font-size="2.9" fill="#8e8e8e" text-anchor="middle" font-weight="normal" >1980.00</text>
<text class="sa" x="355.0" y="406.8" font-size="2.9" fill="#a8a8a8" text-anchor="middle" font-weight="normal" >127.25</text>
<text class="sa" x="462.0" y="406.8" font-size="2.9" fill="#a8a8a8" text-anchor="middle" font-weight="normal" >127.25</text>
<text class="sa" x="349.7" y="23.9" font-size="5.8" fill="#555" id="t0">人:</text>
<text class="sa" x="358.5" y="23.9" font-size="5.9" fill="#111" text-anchor="start" font-weight="bold" id="t1" textLength="108.8" lengthAdjust="spacingAndGlyphs">The Proscenium of Ephemeral Reflections</text>
<text class="sa" x="408.9" y="28.4" font-size="4.12" fill="#3c3c3c" text-anchor="middle" font-weight="normal" id="t2">Alvaro González Serrano + Jennyfher Alvarado Figueroa</text>
<text class="sa" x="382.8" y="40.0" font-size="5.9" fill="#111" text-anchor="start" font-weight="bold" id="t3" textLength="52.2" lengthAdjust="spacingAndGlyphs">Courtyard Floorplan</text>
<text class="sa" x="408.7" y="44.8" font-size="4.05" fill="#3c3c3c" text-anchor="middle" font-weight="normal" id="t4">Montpellier, France</text>
<text class="se" x="408.2" y="463.6" font-size="3.9" fill="#666" text-anchor="middle" font-weight="normal" >L’Hôtel de LUNAS</text>
<text class="se" x="430.6" y="491.3" font-size="4.8" fill="#c2c2c2" text-anchor="middle" font-weight="normal" >Rue de la Valfère</text>
<text class="se" x="574.5" y="491.3" font-size="4.8" fill="#c2c2c2" text-anchor="middle" font-weight="normal" >Rue de la Valfère</text>
<text class="se" x="292.5" y="499.0" font-size="4.8" fill="#c2c2c2" text-anchor="middle" font-weight="normal" transform="rotate(-13 292.5 497.5)">Rue de la Valfère</text>
<text class="se" x="156.5" y="528.0" font-size="4.8" fill="#c2c2c2" text-anchor="middle" font-weight="normal" transform="rotate(-13 156.5 526.5)">Rue de la Valfère</text>
<text class="se" x="546.7" y="543.0" font-size="3.92" fill="#666" text-anchor="start" font-weight="normal" >FLOOR PLAN E 1:50</text>
<text class="se" x="547.5" y="549.3" font-size="4.2" fill="#777" text-anchor="middle" font-weight="normal" >0</text>
<text class="se" x="576.4" y="549.3" font-size="4.2" fill="#777" text-anchor="middle" font-weight="normal" >1</text>
<text class="se" x="605.1" y="549.3" font-size="4.2" fill="#777" text-anchor="middle" font-weight="normal" >2</text>
<text class="se" x="634.0" y="549.3" font-size="4.2" fill="#777" text-anchor="middle" font-weight="normal" >3</text>
<text class="se" x="639.0" y="559.6" font-size="3" fill="#888" text-anchor="middle" font-weight="normal" >m</text>
</g>
</svg></body></html>
